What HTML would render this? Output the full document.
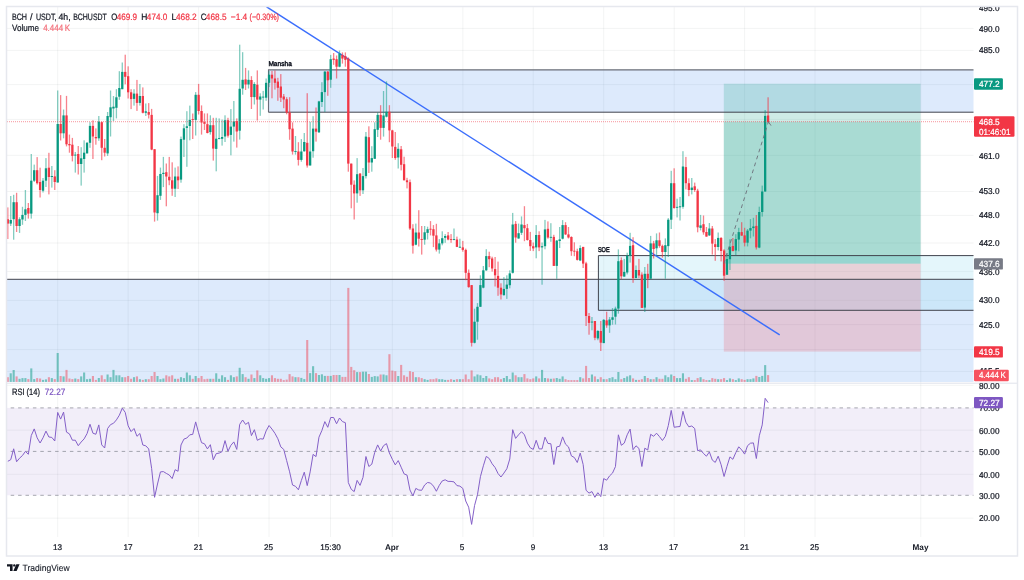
<!DOCTYPE html><html><head><meta charset="utf-8"><title>BCH/USDT chart</title><style>html,body{margin:0;padding:0;background:#fff;overflow:hidden}svg{display:block;will-change:transform}</style></head><body><svg width="1024" height="580" viewBox="0 0 1024 580" text-rendering="geometricPrecision" font-family="'Liberation Sans', Arial, sans-serif"><rect x="0" y="0" width="1024" height="580" fill="#fff"/>
<line x1="7" y1="28.4" x2="973.5" y2="28.4" stroke="rgba(42,46,57,0.055)" stroke-width="1"/>
<line x1="7" y1="50.4" x2="973.5" y2="50.4" stroke="rgba(42,46,57,0.055)" stroke-width="1"/>
<line x1="7" y1="84.6" x2="973.5" y2="84.6" stroke="rgba(42,46,57,0.055)" stroke-width="1"/>
<line x1="7" y1="119.4" x2="973.5" y2="119.4" stroke="rgba(42,46,57,0.055)" stroke-width="1"/>
<line x1="7" y1="155.3" x2="973.5" y2="155.3" stroke="rgba(42,46,57,0.055)" stroke-width="1"/>
<line x1="7" y1="191.5" x2="973.5" y2="191.5" stroke="rgba(42,46,57,0.055)" stroke-width="1"/>
<line x1="7" y1="215.4" x2="973.5" y2="215.4" stroke="rgba(42,46,57,0.055)" stroke-width="1"/>
<line x1="7" y1="243.0" x2="973.5" y2="243.0" stroke="rgba(42,46,57,0.055)" stroke-width="1"/>
<line x1="7" y1="271.5" x2="973.5" y2="271.5" stroke="rgba(42,46,57,0.055)" stroke-width="1"/>
<line x1="7" y1="300.4" x2="973.5" y2="300.4" stroke="rgba(42,46,57,0.055)" stroke-width="1"/>
<line x1="7" y1="324.6" x2="973.5" y2="324.6" stroke="rgba(42,46,57,0.055)" stroke-width="1"/>
<line x1="7" y1="349.6" x2="973.5" y2="349.6" stroke="rgba(42,46,57,0.055)" stroke-width="1"/>
<line x1="7" y1="371.4" x2="973.5" y2="371.4" stroke="rgba(42,46,57,0.055)" stroke-width="1"/>
<line x1="7" y1="385.3" x2="973.5" y2="385.3" stroke="rgba(42,46,57,0.055)" stroke-width="1"/>
<line x1="7" y1="430.2" x2="973.5" y2="430.2" stroke="rgba(42,46,57,0.055)" stroke-width="1"/>
<line x1="7" y1="474.3" x2="973.5" y2="474.3" stroke="rgba(42,46,57,0.055)" stroke-width="1"/>
<line x1="7" y1="518.2" x2="973.5" y2="518.2" stroke="rgba(42,46,57,0.055)" stroke-width="1"/>
<line x1="57.7" y1="7" x2="57.7" y2="537" stroke="rgba(42,46,57,0.055)" stroke-width="1"/>
<line x1="128.15" y1="7" x2="128.15" y2="537" stroke="rgba(42,46,57,0.055)" stroke-width="1"/>
<line x1="198.6" y1="7" x2="198.6" y2="537" stroke="rgba(42,46,57,0.055)" stroke-width="1"/>
<line x1="269.06" y1="7" x2="269.06" y2="537" stroke="rgba(42,46,57,0.055)" stroke-width="1"/>
<line x1="392.35" y1="7" x2="392.35" y2="537" stroke="rgba(42,46,57,0.055)" stroke-width="1"/>
<line x1="462.8" y1="7" x2="462.8" y2="537" stroke="rgba(42,46,57,0.055)" stroke-width="1"/>
<line x1="533.25" y1="7" x2="533.25" y2="537" stroke="rgba(42,46,57,0.055)" stroke-width="1"/>
<line x1="603.7" y1="7" x2="603.7" y2="537" stroke="rgba(42,46,57,0.055)" stroke-width="1"/>
<line x1="674.16" y1="7" x2="674.16" y2="537" stroke="rgba(42,46,57,0.055)" stroke-width="1"/>
<line x1="744.61" y1="7" x2="744.61" y2="537" stroke="rgba(42,46,57,0.055)" stroke-width="1"/>
<line x1="815.06" y1="7" x2="815.06" y2="537" stroke="rgba(42,46,57,0.055)" stroke-width="1"/>
<line x1="920.74" y1="7" x2="920.74" y2="537" stroke="rgba(42,46,57,0.055)" stroke-width="1"/>
<line x1="330.5" y1="7" x2="330.5" y2="537" stroke="rgba(42,46,57,0.055)" stroke-width="1"/>
<rect x="7" y="279.2" width="966.5" height="102.80000000000001" fill="rgba(38,120,235,0.155)"/>
<rect x="268.5" y="69.9" width="705.0" height="42.3" fill="rgba(38,120,235,0.155)"/>
<rect x="598.3" y="255.6" width="375.20000000000005" height="54.6" fill="rgba(163,224,241,0.294)"/>
<rect x="723.8" y="83.7" width="196.8" height="38" fill="rgba(8,153,129,0.2)"/>
<rect x="723.8" y="121.7" width="196.8" height="142" fill="rgba(8,153,129,0.35)"/>
<rect x="723.8" y="263.7" width="196.8" height="87.9" fill="rgba(242,54,69,0.19)"/>
<rect x="6.75" y="377.20" width="2.1" height="4.70" fill="rgba(242,54,69,0.45)"/><rect x="9.68" y="373.30" width="2.1" height="8.60" fill="rgba(8,153,129,0.5)"/><rect x="12.62" y="370.00" width="2.1" height="11.90" fill="rgba(8,153,129,0.5)"/><rect x="15.55" y="376.40" width="2.1" height="5.50" fill="rgba(242,54,69,0.45)"/><rect x="18.49" y="378.80" width="2.1" height="3.10" fill="rgba(8,153,129,0.5)"/><rect x="21.42" y="378.10" width="2.1" height="3.80" fill="rgba(8,153,129,0.5)"/><rect x="24.36" y="378.10" width="2.1" height="3.80" fill="rgba(8,153,129,0.5)"/><rect x="27.29" y="379.10" width="2.1" height="2.80" fill="rgba(242,54,69,0.45)"/><rect x="30.23" y="368.40" width="2.1" height="13.50" fill="rgba(8,153,129,0.5)"/><rect x="33.17" y="379.10" width="2.1" height="2.80" fill="rgba(8,153,129,0.5)"/><rect x="36.10" y="378.10" width="2.1" height="3.80" fill="rgba(242,54,69,0.45)"/><rect x="39.04" y="378.50" width="2.1" height="3.40" fill="rgba(242,54,69,0.45)"/><rect x="41.97" y="379.90" width="2.1" height="2.00" fill="rgba(8,153,129,0.5)"/><rect x="44.91" y="379.40" width="2.1" height="2.50" fill="rgba(8,153,129,0.5)"/><rect x="47.84" y="377.20" width="2.1" height="4.70" fill="rgba(242,54,69,0.45)"/><rect x="50.78" y="378.10" width="2.1" height="3.80" fill="rgba(8,153,129,0.5)"/><rect x="53.71" y="379.10" width="2.1" height="2.80" fill="rgba(242,54,69,0.45)"/><rect x="56.65" y="353.00" width="2.1" height="28.90" fill="rgba(8,153,129,0.5)"/><rect x="59.59" y="376.00" width="2.1" height="5.90" fill="rgba(242,54,69,0.45)"/><rect x="62.52" y="376.40" width="2.1" height="5.50" fill="rgba(8,153,129,0.5)"/><rect x="65.46" y="369.90" width="2.1" height="12.00" fill="rgba(242,54,69,0.45)"/><rect x="68.39" y="378.50" width="2.1" height="3.40" fill="rgba(242,54,69,0.45)"/><rect x="71.33" y="379.10" width="2.1" height="2.80" fill="rgba(242,54,69,0.45)"/><rect x="74.26" y="378.50" width="2.1" height="3.40" fill="rgba(8,153,129,0.5)"/><rect x="77.20" y="379.10" width="2.1" height="2.80" fill="rgba(242,54,69,0.45)"/><rect x="80.13" y="376.40" width="2.1" height="5.50" fill="rgba(8,153,129,0.5)"/><rect x="83.07" y="372.50" width="2.1" height="9.40" fill="rgba(8,153,129,0.5)"/><rect x="86.01" y="379.20" width="2.1" height="2.70" fill="rgba(8,153,129,0.5)"/><rect x="88.94" y="378.80" width="2.1" height="3.10" fill="rgba(8,153,129,0.5)"/><rect x="91.88" y="376.00" width="2.1" height="5.90" fill="rgba(242,54,69,0.45)"/><rect x="94.81" y="379.90" width="2.1" height="2.00" fill="rgba(242,54,69,0.45)"/><rect x="97.75" y="378.00" width="2.1" height="3.90" fill="rgba(8,153,129,0.5)"/><rect x="100.68" y="375.30" width="2.1" height="6.60" fill="rgba(242,54,69,0.45)"/><rect x="103.62" y="379.20" width="2.1" height="2.70" fill="rgba(242,54,69,0.45)"/><rect x="106.55" y="374.50" width="2.1" height="7.40" fill="rgba(8,153,129,0.5)"/><rect x="109.49" y="377.20" width="2.1" height="4.70" fill="rgba(8,153,129,0.5)"/><rect x="112.42" y="369.90" width="2.1" height="12.00" fill="rgba(8,153,129,0.5)"/><rect x="115.36" y="375.30" width="2.1" height="6.60" fill="rgba(8,153,129,0.5)"/><rect x="118.30" y="375.30" width="2.1" height="6.60" fill="rgba(8,153,129,0.5)"/><rect x="121.23" y="377.20" width="2.1" height="4.70" fill="rgba(8,153,129,0.5)"/><rect x="124.17" y="377.20" width="2.1" height="4.70" fill="rgba(242,54,69,0.45)"/><rect x="127.10" y="376.00" width="2.1" height="5.90" fill="rgba(242,54,69,0.45)"/><rect x="130.04" y="378.80" width="2.1" height="3.10" fill="rgba(242,54,69,0.45)"/><rect x="132.97" y="377.20" width="2.1" height="4.70" fill="rgba(8,153,129,0.5)"/><rect x="135.91" y="376.40" width="2.1" height="5.50" fill="rgba(242,54,69,0.45)"/><rect x="138.84" y="379.20" width="2.1" height="2.70" fill="rgba(8,153,129,0.5)"/><rect x="141.78" y="379.90" width="2.1" height="2.00" fill="rgba(242,54,69,0.45)"/><rect x="144.72" y="379.20" width="2.1" height="2.70" fill="rgba(8,153,129,0.5)"/><rect x="147.65" y="379.20" width="2.1" height="2.70" fill="rgba(242,54,69,0.45)"/><rect x="150.59" y="376.00" width="2.1" height="5.90" fill="rgba(242,54,69,0.45)"/><rect x="153.52" y="372.00" width="2.1" height="9.90" fill="rgba(242,54,69,0.45)"/><rect x="156.46" y="376.00" width="2.1" height="5.90" fill="rgba(8,153,129,0.5)"/><rect x="159.39" y="379.20" width="2.1" height="2.70" fill="rgba(8,153,129,0.5)"/><rect x="162.33" y="378.50" width="2.1" height="3.40" fill="rgba(8,153,129,0.5)"/><rect x="165.26" y="375.30" width="2.1" height="6.60" fill="rgba(242,54,69,0.45)"/><rect x="168.20" y="376.40" width="2.1" height="5.50" fill="rgba(242,54,69,0.45)"/><rect x="171.13" y="375.30" width="2.1" height="6.60" fill="rgba(242,54,69,0.45)"/><rect x="174.07" y="378.80" width="2.1" height="3.10" fill="rgba(8,153,129,0.5)"/><rect x="177.01" y="378.80" width="2.1" height="3.10" fill="rgba(242,54,69,0.45)"/><rect x="179.94" y="377.20" width="2.1" height="4.70" fill="rgba(8,153,129,0.5)"/><rect x="182.88" y="378.10" width="2.1" height="3.80" fill="rgba(8,153,129,0.5)"/><rect x="185.81" y="372.50" width="2.1" height="9.40" fill="rgba(8,153,129,0.5)"/><rect x="188.75" y="375.30" width="2.1" height="6.60" fill="rgba(8,153,129,0.5)"/><rect x="191.68" y="378.80" width="2.1" height="3.10" fill="rgba(242,54,69,0.45)"/><rect x="194.62" y="376.00" width="2.1" height="5.90" fill="rgba(8,153,129,0.5)"/><rect x="197.55" y="378.10" width="2.1" height="3.80" fill="rgba(242,54,69,0.45)"/><rect x="200.49" y="376.00" width="2.1" height="5.90" fill="rgba(242,54,69,0.45)"/><rect x="203.43" y="379.20" width="2.1" height="2.70" fill="rgba(242,54,69,0.45)"/><rect x="206.36" y="378.80" width="2.1" height="3.10" fill="rgba(242,54,69,0.45)"/><rect x="209.30" y="378.80" width="2.1" height="3.10" fill="rgba(8,153,129,0.5)"/><rect x="212.23" y="378.80" width="2.1" height="3.10" fill="rgba(242,54,69,0.45)"/><rect x="215.17" y="373.30" width="2.1" height="8.60" fill="rgba(8,153,129,0.5)"/><rect x="218.10" y="378.80" width="2.1" height="3.10" fill="rgba(8,153,129,0.5)"/><rect x="221.04" y="375.30" width="2.1" height="6.60" fill="rgba(8,153,129,0.5)"/><rect x="223.97" y="377.20" width="2.1" height="4.70" fill="rgba(8,153,129,0.5)"/><rect x="226.91" y="379.90" width="2.1" height="2.00" fill="rgba(242,54,69,0.45)"/><rect x="229.84" y="375.30" width="2.1" height="6.60" fill="rgba(8,153,129,0.5)"/><rect x="232.78" y="377.20" width="2.1" height="4.70" fill="rgba(8,153,129,0.5)"/><rect x="235.72" y="376.40" width="2.1" height="5.50" fill="rgba(242,54,69,0.45)"/><rect x="238.65" y="367.80" width="2.1" height="14.10" fill="rgba(8,153,129,0.5)"/><rect x="241.59" y="374.10" width="2.1" height="7.80" fill="rgba(8,153,129,0.5)"/><rect x="244.52" y="377.20" width="2.1" height="4.70" fill="rgba(242,54,69,0.45)"/><rect x="247.46" y="378.80" width="2.1" height="3.10" fill="rgba(8,153,129,0.5)"/><rect x="250.39" y="374.50" width="2.1" height="7.40" fill="rgba(242,54,69,0.45)"/><rect x="253.33" y="378.10" width="2.1" height="3.80" fill="rgba(8,153,129,0.5)"/><rect x="256.26" y="370.40" width="2.1" height="11.50" fill="rgba(242,54,69,0.45)"/><rect x="259.20" y="375.30" width="2.1" height="6.60" fill="rgba(8,153,129,0.5)"/><rect x="262.13" y="378.10" width="2.1" height="3.80" fill="rgba(8,153,129,0.5)"/><rect x="265.07" y="378.80" width="2.1" height="3.10" fill="rgba(8,153,129,0.5)"/><rect x="268.01" y="378.10" width="2.1" height="3.80" fill="rgba(8,153,129,0.5)"/><rect x="270.94" y="375.30" width="2.1" height="6.60" fill="rgba(242,54,69,0.45)"/><rect x="273.88" y="378.10" width="2.1" height="3.80" fill="rgba(242,54,69,0.45)"/><rect x="276.81" y="378.80" width="2.1" height="3.10" fill="rgba(242,54,69,0.45)"/><rect x="279.75" y="378.80" width="2.1" height="3.10" fill="rgba(242,54,69,0.45)"/><rect x="282.68" y="380.10" width="2.1" height="1.80" fill="rgba(242,54,69,0.45)"/><rect x="285.62" y="379.60" width="2.1" height="2.30" fill="rgba(242,54,69,0.45)"/><rect x="288.55" y="374.10" width="2.1" height="7.80" fill="rgba(242,54,69,0.45)"/><rect x="291.49" y="376.40" width="2.1" height="5.50" fill="rgba(242,54,69,0.45)"/><rect x="294.43" y="377.20" width="2.1" height="4.70" fill="rgba(8,153,129,0.5)"/><rect x="297.36" y="377.20" width="2.1" height="4.70" fill="rgba(242,54,69,0.45)"/><rect x="300.30" y="377.90" width="2.1" height="4.00" fill="rgba(8,153,129,0.5)"/><rect x="303.23" y="379.10" width="2.1" height="2.80" fill="rgba(8,153,129,0.5)"/><rect x="306.17" y="340.00" width="2.1" height="41.90" fill="rgba(242,54,69,0.45)"/><rect x="309.10" y="373.10" width="2.1" height="8.80" fill="rgba(8,153,129,0.5)"/><rect x="312.04" y="366.20" width="2.1" height="15.70" fill="rgba(8,153,129,0.5)"/><rect x="314.97" y="373.10" width="2.1" height="8.80" fill="rgba(242,54,69,0.45)"/><rect x="317.91" y="375.00" width="2.1" height="6.90" fill="rgba(8,153,129,0.5)"/><rect x="320.84" y="374.30" width="2.1" height="7.60" fill="rgba(8,153,129,0.5)"/><rect x="323.78" y="375.90" width="2.1" height="6.00" fill="rgba(8,153,129,0.5)"/><rect x="326.72" y="375.90" width="2.1" height="6.00" fill="rgba(242,54,69,0.45)"/><rect x="329.65" y="375.90" width="2.1" height="6.00" fill="rgba(8,153,129,0.5)"/><rect x="332.59" y="375.00" width="2.1" height="6.90" fill="rgba(242,54,69,0.45)"/><rect x="335.52" y="375.00" width="2.1" height="6.90" fill="rgba(242,54,69,0.45)"/><rect x="338.46" y="375.00" width="2.1" height="6.90" fill="rgba(8,153,129,0.5)"/><rect x="341.39" y="376.90" width="2.1" height="5.00" fill="rgba(242,54,69,0.45)"/><rect x="344.33" y="376.90" width="2.1" height="5.00" fill="rgba(242,54,69,0.45)"/><rect x="347.26" y="287.90" width="2.1" height="94.00" fill="rgba(242,54,69,0.45)"/><rect x="350.20" y="366.90" width="2.1" height="15.00" fill="rgba(242,54,69,0.45)"/><rect x="353.14" y="370.20" width="2.1" height="11.70" fill="rgba(242,54,69,0.45)"/><rect x="356.07" y="372.10" width="2.1" height="9.80" fill="rgba(8,153,129,0.5)"/><rect x="359.01" y="372.10" width="2.1" height="9.80" fill="rgba(242,54,69,0.45)"/><rect x="361.94" y="371.70" width="2.1" height="10.20" fill="rgba(8,153,129,0.5)"/><rect x="364.88" y="371.70" width="2.1" height="10.20" fill="rgba(8,153,129,0.5)"/><rect x="367.81" y="374.00" width="2.1" height="7.90" fill="rgba(242,54,69,0.45)"/><rect x="370.75" y="376.90" width="2.1" height="5.00" fill="rgba(8,153,129,0.5)"/><rect x="373.68" y="376.10" width="2.1" height="5.80" fill="rgba(8,153,129,0.5)"/><rect x="376.62" y="376.40" width="2.1" height="5.50" fill="rgba(8,153,129,0.5)"/><rect x="379.56" y="374.50" width="2.1" height="7.40" fill="rgba(242,54,69,0.45)"/><rect x="382.49" y="374.50" width="2.1" height="7.40" fill="rgba(8,153,129,0.5)"/><rect x="385.43" y="375.30" width="2.1" height="6.60" fill="rgba(8,153,129,0.5)"/><rect x="388.36" y="354.20" width="2.1" height="27.70" fill="rgba(242,54,69,0.45)"/><rect x="391.30" y="370.60" width="2.1" height="11.30" fill="rgba(242,54,69,0.45)"/><rect x="394.23" y="371.20" width="2.1" height="10.70" fill="rgba(242,54,69,0.45)"/><rect x="397.17" y="376.00" width="2.1" height="5.90" fill="rgba(8,153,129,0.5)"/><rect x="400.10" y="364.90" width="2.1" height="17.00" fill="rgba(242,54,69,0.45)"/><rect x="403.04" y="375.30" width="2.1" height="6.60" fill="rgba(242,54,69,0.45)"/><rect x="405.97" y="376.80" width="2.1" height="5.10" fill="rgba(242,54,69,0.45)"/><rect x="408.91" y="371.20" width="2.1" height="10.70" fill="rgba(242,54,69,0.45)"/><rect x="411.85" y="372.00" width="2.1" height="9.90" fill="rgba(242,54,69,0.45)"/><rect x="414.78" y="377.20" width="2.1" height="4.70" fill="rgba(8,153,129,0.5)"/><rect x="417.72" y="377.20" width="2.1" height="4.70" fill="rgba(242,54,69,0.45)"/><rect x="420.65" y="378.10" width="2.1" height="3.80" fill="rgba(242,54,69,0.45)"/><rect x="423.59" y="379.20" width="2.1" height="2.70" fill="rgba(8,153,129,0.5)"/><rect x="426.52" y="379.90" width="2.1" height="2.00" fill="rgba(8,153,129,0.5)"/><rect x="429.46" y="379.20" width="2.1" height="2.70" fill="rgba(242,54,69,0.45)"/><rect x="432.39" y="379.20" width="2.1" height="2.70" fill="rgba(242,54,69,0.45)"/><rect x="435.33" y="378.40" width="2.1" height="3.50" fill="rgba(242,54,69,0.45)"/><rect x="438.26" y="379.20" width="2.1" height="2.70" fill="rgba(8,153,129,0.5)"/><rect x="441.20" y="379.20" width="2.1" height="2.70" fill="rgba(8,153,129,0.5)"/><rect x="444.14" y="379.90" width="2.1" height="2.00" fill="rgba(8,153,129,0.5)"/><rect x="447.07" y="379.90" width="2.1" height="2.00" fill="rgba(242,54,69,0.45)"/><rect x="450.01" y="379.20" width="2.1" height="2.70" fill="rgba(242,54,69,0.45)"/><rect x="452.94" y="379.90" width="2.1" height="2.00" fill="rgba(8,153,129,0.5)"/><rect x="455.88" y="379.20" width="2.1" height="2.70" fill="rgba(242,54,69,0.45)"/><rect x="458.81" y="379.20" width="2.1" height="2.70" fill="rgba(8,153,129,0.5)"/><rect x="461.75" y="379.20" width="2.1" height="2.70" fill="rgba(242,54,69,0.45)"/><rect x="464.68" y="374.50" width="2.1" height="7.40" fill="rgba(242,54,69,0.45)"/><rect x="467.62" y="379.20" width="2.1" height="2.70" fill="rgba(242,54,69,0.45)"/><rect x="470.56" y="370.40" width="2.1" height="11.50" fill="rgba(242,54,69,0.45)"/><rect x="473.49" y="376.40" width="2.1" height="5.50" fill="rgba(8,153,129,0.5)"/><rect x="476.43" y="374.50" width="2.1" height="7.40" fill="rgba(8,153,129,0.5)"/><rect x="479.36" y="375.30" width="2.1" height="6.60" fill="rgba(8,153,129,0.5)"/><rect x="482.30" y="378.00" width="2.1" height="3.90" fill="rgba(8,153,129,0.5)"/><rect x="485.23" y="376.00" width="2.1" height="5.90" fill="rgba(8,153,129,0.5)"/><rect x="488.17" y="378.40" width="2.1" height="3.50" fill="rgba(242,54,69,0.45)"/><rect x="491.10" y="379.20" width="2.1" height="2.70" fill="rgba(242,54,69,0.45)"/><rect x="494.04" y="377.20" width="2.1" height="4.70" fill="rgba(242,54,69,0.45)"/><rect x="496.98" y="377.20" width="2.1" height="4.70" fill="rgba(242,54,69,0.45)"/><rect x="499.91" y="379.20" width="2.1" height="2.70" fill="rgba(242,54,69,0.45)"/><rect x="502.85" y="378.00" width="2.1" height="3.90" fill="rgba(8,153,129,0.5)"/><rect x="505.78" y="376.00" width="2.1" height="5.90" fill="rgba(8,153,129,0.5)"/><rect x="508.72" y="379.20" width="2.1" height="2.70" fill="rgba(8,153,129,0.5)"/><rect x="511.65" y="372.50" width="2.1" height="9.40" fill="rgba(8,153,129,0.5)"/><rect x="514.59" y="375.30" width="2.1" height="6.60" fill="rgba(242,54,69,0.45)"/><rect x="517.52" y="377.20" width="2.1" height="4.70" fill="rgba(8,153,129,0.5)"/><rect x="520.46" y="377.20" width="2.1" height="4.70" fill="rgba(8,153,129,0.5)"/><rect x="523.39" y="374.10" width="2.1" height="7.80" fill="rgba(242,54,69,0.45)"/><rect x="526.33" y="378.40" width="2.1" height="3.50" fill="rgba(242,54,69,0.45)"/><rect x="529.27" y="379.20" width="2.1" height="2.70" fill="rgba(242,54,69,0.45)"/><rect x="532.20" y="378.40" width="2.1" height="3.50" fill="rgba(242,54,69,0.45)"/><rect x="535.14" y="376.40" width="2.1" height="5.50" fill="rgba(8,153,129,0.5)"/><rect x="538.07" y="378.40" width="2.1" height="3.50" fill="rgba(242,54,69,0.45)"/><rect x="541.01" y="369.90" width="2.1" height="12.00" fill="rgba(8,153,129,0.5)"/><rect x="543.94" y="378.00" width="2.1" height="3.90" fill="rgba(8,153,129,0.5)"/><rect x="546.88" y="378.40" width="2.1" height="3.50" fill="rgba(242,54,69,0.45)"/><rect x="549.81" y="378.80" width="2.1" height="3.10" fill="rgba(8,153,129,0.5)"/><rect x="552.75" y="378.50" width="2.1" height="3.40" fill="rgba(242,54,69,0.45)"/><rect x="555.69" y="378.00" width="2.1" height="3.90" fill="rgba(8,153,129,0.5)"/><rect x="558.62" y="378.80" width="2.1" height="3.10" fill="rgba(8,153,129,0.5)"/><rect x="561.56" y="376.40" width="2.1" height="5.50" fill="rgba(8,153,129,0.5)"/><rect x="564.49" y="379.20" width="2.1" height="2.70" fill="rgba(242,54,69,0.45)"/><rect x="567.43" y="380.10" width="2.1" height="1.80" fill="rgba(242,54,69,0.45)"/><rect x="570.36" y="380.10" width="2.1" height="1.80" fill="rgba(242,54,69,0.45)"/><rect x="573.30" y="380.10" width="2.1" height="1.80" fill="rgba(242,54,69,0.45)"/><rect x="576.23" y="380.10" width="2.1" height="1.80" fill="rgba(242,54,69,0.45)"/><rect x="579.17" y="377.20" width="2.1" height="4.70" fill="rgba(8,153,129,0.5)"/><rect x="582.10" y="378.40" width="2.1" height="3.50" fill="rgba(242,54,69,0.45)"/><rect x="585.04" y="365.90" width="2.1" height="16.00" fill="rgba(242,54,69,0.45)"/><rect x="587.98" y="378.00" width="2.1" height="3.90" fill="rgba(242,54,69,0.45)"/><rect x="590.91" y="374.50" width="2.1" height="7.40" fill="rgba(8,153,129,0.5)"/><rect x="593.85" y="376.40" width="2.1" height="5.50" fill="rgba(242,54,69,0.45)"/><rect x="596.78" y="379.20" width="2.1" height="2.70" fill="rgba(8,153,129,0.5)"/><rect x="599.72" y="377.20" width="2.1" height="4.70" fill="rgba(242,54,69,0.45)"/><rect x="602.65" y="379.20" width="2.1" height="2.70" fill="rgba(8,153,129,0.5)"/><rect x="605.59" y="379.20" width="2.1" height="2.70" fill="rgba(242,54,69,0.45)"/><rect x="608.52" y="378.10" width="2.1" height="3.80" fill="rgba(8,153,129,0.5)"/><rect x="611.46" y="377.20" width="2.1" height="4.70" fill="rgba(8,153,129,0.5)"/><rect x="614.40" y="379.20" width="2.1" height="2.70" fill="rgba(8,153,129,0.5)"/><rect x="617.33" y="372.00" width="2.1" height="9.90" fill="rgba(8,153,129,0.5)"/><rect x="620.27" y="379.20" width="2.1" height="2.70" fill="rgba(242,54,69,0.45)"/><rect x="623.20" y="378.00" width="2.1" height="3.90" fill="rgba(8,153,129,0.5)"/><rect x="626.14" y="376.40" width="2.1" height="5.50" fill="rgba(8,153,129,0.5)"/><rect x="629.07" y="375.30" width="2.1" height="6.60" fill="rgba(8,153,129,0.5)"/><rect x="632.01" y="378.40" width="2.1" height="3.50" fill="rgba(242,54,69,0.45)"/><rect x="634.94" y="379.90" width="2.1" height="2.00" fill="rgba(8,153,129,0.5)"/><rect x="637.88" y="379.90" width="2.1" height="2.00" fill="rgba(242,54,69,0.45)"/><rect x="640.81" y="379.20" width="2.1" height="2.70" fill="rgba(242,54,69,0.45)"/><rect x="643.75" y="376.00" width="2.1" height="5.90" fill="rgba(8,153,129,0.5)"/><rect x="646.69" y="378.00" width="2.1" height="3.90" fill="rgba(242,54,69,0.45)"/><rect x="649.62" y="379.20" width="2.1" height="2.70" fill="rgba(8,153,129,0.5)"/><rect x="652.56" y="379.20" width="2.1" height="2.70" fill="rgba(242,54,69,0.45)"/><rect x="655.49" y="377.20" width="2.1" height="4.70" fill="rgba(8,153,129,0.5)"/><rect x="658.43" y="378.80" width="2.1" height="3.10" fill="rgba(242,54,69,0.45)"/><rect x="661.36" y="378.80" width="2.1" height="3.10" fill="rgba(242,54,69,0.45)"/><rect x="664.30" y="375.30" width="2.1" height="6.60" fill="rgba(8,153,129,0.5)"/><rect x="667.23" y="377.20" width="2.1" height="4.70" fill="rgba(8,153,129,0.5)"/><rect x="670.17" y="374.50" width="2.1" height="7.40" fill="rgba(8,153,129,0.5)"/><rect x="673.11" y="376.00" width="2.1" height="5.90" fill="rgba(242,54,69,0.45)"/><rect x="676.04" y="378.10" width="2.1" height="3.80" fill="rgba(8,153,129,0.5)"/><rect x="678.98" y="378.10" width="2.1" height="3.80" fill="rgba(8,153,129,0.5)"/><rect x="681.91" y="373.30" width="2.1" height="8.60" fill="rgba(8,153,129,0.5)"/><rect x="684.85" y="378.80" width="2.1" height="3.10" fill="rgba(242,54,69,0.45)"/><rect x="687.78" y="377.20" width="2.1" height="4.70" fill="rgba(242,54,69,0.45)"/><rect x="690.72" y="380.10" width="2.1" height="1.80" fill="rgba(8,153,129,0.5)"/><rect x="693.65" y="380.10" width="2.1" height="1.80" fill="rgba(242,54,69,0.45)"/><rect x="696.59" y="378.10" width="2.1" height="3.80" fill="rgba(242,54,69,0.45)"/><rect x="699.52" y="377.20" width="2.1" height="4.70" fill="rgba(8,153,129,0.5)"/><rect x="702.46" y="379.20" width="2.1" height="2.70" fill="rgba(242,54,69,0.45)"/><rect x="705.40" y="380.10" width="2.1" height="1.80" fill="rgba(242,54,69,0.45)"/><rect x="708.33" y="380.10" width="2.1" height="1.80" fill="rgba(8,153,129,0.5)"/><rect x="711.27" y="378.10" width="2.1" height="3.80" fill="rgba(242,54,69,0.45)"/><rect x="714.20" y="378.80" width="2.1" height="3.10" fill="rgba(242,54,69,0.45)"/><rect x="717.14" y="379.20" width="2.1" height="2.70" fill="rgba(8,153,129,0.5)"/><rect x="720.07" y="379.20" width="2.1" height="2.70" fill="rgba(242,54,69,0.45)"/><rect x="723.01" y="378.10" width="2.1" height="3.80" fill="rgba(242,54,69,0.45)"/><rect x="725.94" y="380.10" width="2.1" height="1.80" fill="rgba(8,153,129,0.5)"/><rect x="728.88" y="378.40" width="2.1" height="3.50" fill="rgba(8,153,129,0.5)"/><rect x="731.82" y="379.20" width="2.1" height="2.70" fill="rgba(242,54,69,0.45)"/><rect x="734.75" y="380.10" width="2.1" height="1.80" fill="rgba(8,153,129,0.5)"/><rect x="737.69" y="378.40" width="2.1" height="3.50" fill="rgba(8,153,129,0.5)"/><rect x="740.62" y="379.20" width="2.1" height="2.70" fill="rgba(242,54,69,0.45)"/><rect x="743.56" y="379.90" width="2.1" height="2.00" fill="rgba(242,54,69,0.45)"/><rect x="746.49" y="379.20" width="2.1" height="2.70" fill="rgba(8,153,129,0.5)"/><rect x="749.43" y="379.20" width="2.1" height="2.70" fill="rgba(8,153,129,0.5)"/><rect x="752.36" y="378.40" width="2.1" height="3.50" fill="rgba(8,153,129,0.5)"/><rect x="755.30" y="375.90" width="2.1" height="6.00" fill="rgba(242,54,69,0.45)"/><rect x="758.23" y="377.00" width="2.1" height="4.90" fill="rgba(8,153,129,0.5)"/><rect x="761.17" y="375.90" width="2.1" height="6.00" fill="rgba(8,153,129,0.5)"/><rect x="764.11" y="365.10" width="2.1" height="16.80" fill="rgba(8,153,129,0.5)"/><rect x="767.04" y="375.10" width="2.1" height="6.80" fill="rgba(242,54,69,0.45)"/>
<path d="M268.5 112.3V69.9H973.5" fill="none" stroke="#6a6d78" stroke-width="1.1"/>
<line x1="268.5" y1="112.2" x2="973.5" y2="112.2" stroke="#40434d" stroke-width="1"/>
<line x1="7" y1="279.3" x2="973.5" y2="279.3" stroke="#40434d" stroke-width="1"/>
<path d="M973.5 255.6H598.4V310.3H973.5" fill="none" stroke="#40434d" stroke-width="1"/>
<line x1="266.6" y1="6.9" x2="779.7" y2="334.9" stroke="#3b6efc" stroke-width="1.45"/>
<rect x="7.15" y="207.40" width="1.3" height="31.60" fill="#f23645" fill-opacity="0.62"/><rect x="6.65" y="219.20" width="2.3" height="4.40" fill="#f23645"/><rect x="10.08" y="196.00" width="1.3" height="30.00" fill="#089981" fill-opacity="0.5"/><rect x="9.58" y="220.00" width="2.3" height="3.60" fill="#089981"/><rect x="13.02" y="194.80" width="1.3" height="44.90" fill="#089981" fill-opacity="0.5"/><rect x="12.52" y="202.20" width="2.3" height="17.00" fill="#089981"/><rect x="15.95" y="192.80" width="1.3" height="39.20" fill="#f23645" fill-opacity="0.62"/><rect x="15.45" y="202.20" width="2.3" height="23.80" fill="#f23645"/><rect x="18.89" y="217.30" width="1.3" height="15.60" fill="#089981" fill-opacity="0.5"/><rect x="18.39" y="219.20" width="2.3" height="6.80" fill="#089981"/><rect x="21.82" y="206.80" width="1.3" height="18.00" fill="#089981" fill-opacity="0.5"/><rect x="21.32" y="214.90" width="2.3" height="4.60" fill="#089981"/><rect x="24.76" y="190.00" width="1.3" height="31.00" fill="#089981" fill-opacity="0.5"/><rect x="24.26" y="209.30" width="2.3" height="5.60" fill="#089981"/><rect x="27.70" y="203.00" width="1.3" height="15.60" fill="#f23645" fill-opacity="0.62"/><rect x="27.20" y="208.00" width="2.3" height="5.60" fill="#f23645"/><rect x="30.63" y="154.00" width="1.3" height="64.60" fill="#089981" fill-opacity="0.5"/><rect x="30.13" y="180.70" width="2.3" height="32.90" fill="#089981"/><rect x="33.57" y="164.60" width="1.3" height="17.40" fill="#089981" fill-opacity="0.5"/><rect x="33.07" y="170.20" width="2.3" height="10.50" fill="#089981"/><rect x="36.50" y="157.10" width="1.3" height="27.40" fill="#f23645" fill-opacity="0.62"/><rect x="36.00" y="170.20" width="2.3" height="13.00" fill="#f23645"/><rect x="39.44" y="167.70" width="1.3" height="29.80" fill="#f23645" fill-opacity="0.62"/><rect x="38.94" y="182.00" width="2.3" height="8.00" fill="#f23645"/><rect x="42.37" y="178.00" width="1.3" height="14.50" fill="#089981" fill-opacity="0.5"/><rect x="41.87" y="180.70" width="2.3" height="10.00" fill="#089981"/><rect x="45.31" y="158.10" width="1.3" height="28.90" fill="#089981" fill-opacity="0.5"/><rect x="44.81" y="168.30" width="2.3" height="12.40" fill="#089981"/><rect x="48.24" y="152.80" width="1.3" height="41.60" fill="#f23645" fill-opacity="0.62"/><rect x="47.74" y="167.70" width="2.3" height="9.30" fill="#f23645"/><rect x="51.18" y="166.00" width="1.3" height="21.60" fill="#089981" fill-opacity="0.5"/><rect x="50.68" y="176.00" width="2.3" height="1.00" fill="#089981"/><rect x="54.11" y="170.20" width="1.3" height="19.80" fill="#f23645" fill-opacity="0.62"/><rect x="53.61" y="176.40" width="2.3" height="5.60" fill="#f23645"/><rect x="57.05" y="90.50" width="1.3" height="92.00" fill="#089981" fill-opacity="0.5"/><rect x="56.55" y="124.00" width="2.3" height="58.50" fill="#089981"/><rect x="59.99" y="95.10" width="1.3" height="45.40" fill="#f23645" fill-opacity="0.62"/><rect x="59.49" y="124.00" width="2.3" height="9.30" fill="#f23645"/><rect x="62.92" y="109.50" width="1.3" height="28.80" fill="#089981" fill-opacity="0.5"/><rect x="62.42" y="115.40" width="2.3" height="17.90" fill="#089981"/><rect x="65.86" y="95.90" width="1.3" height="50.50" fill="#f23645" fill-opacity="0.62"/><rect x="65.36" y="115.40" width="2.3" height="28.90" fill="#f23645"/><rect x="68.79" y="134.60" width="1.3" height="18.10" fill="#f23645" fill-opacity="0.62"/><rect x="68.29" y="144.00" width="2.3" height="1.30" fill="#f23645"/><rect x="71.73" y="137.90" width="1.3" height="23.50" fill="#f23645" fill-opacity="0.62"/><rect x="71.23" y="144.70" width="2.3" height="11.20" fill="#f23645"/><rect x="74.66" y="152.00" width="1.3" height="20.60" fill="#089981" fill-opacity="0.5"/><rect x="74.16" y="154.65" width="2.3" height="0.90" fill="#089981"/><rect x="77.60" y="146.00" width="1.3" height="28.50" fill="#f23645" fill-opacity="0.62"/><rect x="77.10" y="154.00" width="2.3" height="10.00" fill="#f23645"/><rect x="80.53" y="147.20" width="1.3" height="38.40" fill="#089981" fill-opacity="0.5"/><rect x="80.03" y="158.30" width="2.3" height="5.70" fill="#089981"/><rect x="83.47" y="140.30" width="1.3" height="32.30" fill="#089981" fill-opacity="0.5"/><rect x="82.97" y="152.70" width="2.3" height="6.30" fill="#089981"/><rect x="86.41" y="142.00" width="1.3" height="11.40" fill="#089981" fill-opacity="0.5"/><rect x="85.91" y="142.80" width="2.3" height="10.60" fill="#089981"/><rect x="89.34" y="122.20" width="1.3" height="25.60" fill="#089981" fill-opacity="0.5"/><rect x="88.84" y="125.90" width="2.3" height="16.90" fill="#089981"/><rect x="92.28" y="120.30" width="1.3" height="38.70" fill="#f23645" fill-opacity="0.62"/><rect x="91.78" y="125.90" width="2.3" height="10.60" fill="#f23645"/><rect x="95.21" y="128.40" width="1.3" height="16.30" fill="#f23645" fill-opacity="0.62"/><rect x="94.71" y="137.00" width="2.3" height="1.30" fill="#f23645"/><rect x="98.15" y="116.00" width="1.3" height="24.80" fill="#089981" fill-opacity="0.5"/><rect x="97.65" y="121.60" width="2.3" height="16.70" fill="#089981"/><rect x="101.08" y="121.60" width="1.3" height="38.60" fill="#f23645" fill-opacity="0.62"/><rect x="100.58" y="122.20" width="2.3" height="25.60" fill="#f23645"/><rect x="104.02" y="139.00" width="1.3" height="17.50" fill="#f23645" fill-opacity="0.62"/><rect x="103.52" y="147.80" width="2.3" height="4.90" fill="#f23645"/><rect x="106.95" y="112.00" width="1.3" height="43.90" fill="#089981" fill-opacity="0.5"/><rect x="106.45" y="116.00" width="2.3" height="37.40" fill="#089981"/><rect x="109.89" y="90.50" width="1.3" height="46.00" fill="#089981" fill-opacity="0.5"/><rect x="109.39" y="107.30" width="2.3" height="9.90" fill="#089981"/><rect x="112.82" y="96.00" width="1.3" height="25.00" fill="#089981" fill-opacity="0.5"/><rect x="112.32" y="106.70" width="2.3" height="1.80" fill="#089981"/><rect x="115.76" y="89.20" width="1.3" height="29.20" fill="#089981" fill-opacity="0.5"/><rect x="115.26" y="97.30" width="2.3" height="10.50" fill="#089981"/><rect x="118.70" y="71.20" width="1.3" height="28.60" fill="#089981" fill-opacity="0.5"/><rect x="118.20" y="88.00" width="2.3" height="8.70" fill="#089981"/><rect x="121.63" y="62.50" width="1.3" height="26.70" fill="#089981" fill-opacity="0.5"/><rect x="121.13" y="71.90" width="2.3" height="17.30" fill="#089981"/><rect x="124.57" y="54.70" width="1.3" height="29.60" fill="#f23645" fill-opacity="0.62"/><rect x="124.07" y="71.90" width="2.3" height="4.90" fill="#f23645"/><rect x="127.50" y="66.30" width="1.3" height="32.20" fill="#f23645" fill-opacity="0.62"/><rect x="127.00" y="76.20" width="2.3" height="16.10" fill="#f23645"/><rect x="130.44" y="89.20" width="1.3" height="19.90" fill="#f23645" fill-opacity="0.62"/><rect x="129.94" y="92.30" width="2.3" height="6.80" fill="#f23645"/><rect x="133.37" y="89.20" width="1.3" height="16.40" fill="#089981" fill-opacity="0.5"/><rect x="132.87" y="93.60" width="2.3" height="5.30" fill="#089981"/><rect x="136.31" y="79.90" width="1.3" height="31.00" fill="#f23645" fill-opacity="0.62"/><rect x="135.81" y="93.60" width="2.3" height="9.30" fill="#f23645"/><rect x="139.24" y="84.00" width="1.3" height="21.60" fill="#089981" fill-opacity="0.5"/><rect x="138.74" y="96.00" width="2.3" height="6.90" fill="#089981"/><rect x="142.18" y="87.40" width="1.3" height="26.00" fill="#f23645" fill-opacity="0.62"/><rect x="141.68" y="96.00" width="2.3" height="16.80" fill="#f23645"/><rect x="145.12" y="103.50" width="1.3" height="12.50" fill="#089981" fill-opacity="0.5"/><rect x="144.62" y="111.30" width="2.3" height="1.50" fill="#089981"/><rect x="148.05" y="103.10" width="1.3" height="15.40" fill="#f23645" fill-opacity="0.62"/><rect x="147.55" y="112.00" width="2.3" height="2.70" fill="#f23645"/><rect x="150.99" y="108.90" width="1.3" height="41.30" fill="#f23645" fill-opacity="0.62"/><rect x="150.49" y="114.90" width="2.3" height="34.70" fill="#f23645"/><rect x="153.92" y="149.20" width="1.3" height="72.40" fill="#f23645" fill-opacity="0.62"/><rect x="153.42" y="149.20" width="2.3" height="63.30" fill="#f23645"/><rect x="156.86" y="175.90" width="1.3" height="44.70" fill="#089981" fill-opacity="0.5"/><rect x="156.36" y="195.20" width="2.3" height="18.00" fill="#089981"/><rect x="159.79" y="167.60" width="1.3" height="32.30" fill="#089981" fill-opacity="0.5"/><rect x="159.29" y="174.00" width="2.3" height="21.80" fill="#089981"/><rect x="162.73" y="156.90" width="1.3" height="30.20" fill="#089981" fill-opacity="0.5"/><rect x="162.23" y="172.80" width="2.3" height="1.20" fill="#089981"/><rect x="165.66" y="163.50" width="1.3" height="42.80" fill="#f23645" fill-opacity="0.62"/><rect x="165.16" y="172.20" width="2.3" height="4.30" fill="#f23645"/><rect x="168.60" y="156.90" width="1.3" height="28.30" fill="#f23645" fill-opacity="0.62"/><rect x="168.10" y="176.80" width="2.3" height="3.50" fill="#f23645"/><rect x="171.53" y="162.30" width="1.3" height="33.50" fill="#f23645" fill-opacity="0.62"/><rect x="171.03" y="180.30" width="2.3" height="8.40" fill="#f23645"/><rect x="174.47" y="167.60" width="1.3" height="29.40" fill="#089981" fill-opacity="0.5"/><rect x="173.97" y="176.50" width="2.3" height="12.20" fill="#089981"/><rect x="177.41" y="166.40" width="1.3" height="22.60" fill="#f23645" fill-opacity="0.62"/><rect x="176.91" y="176.50" width="2.3" height="3.80" fill="#f23645"/><rect x="180.34" y="136.60" width="1.3" height="46.10" fill="#089981" fill-opacity="0.5"/><rect x="179.84" y="139.10" width="2.3" height="40.50" fill="#089981"/><rect x="183.28" y="124.20" width="1.3" height="32.80" fill="#089981" fill-opacity="0.5"/><rect x="182.78" y="128.30" width="2.3" height="11.40" fill="#089981"/><rect x="186.21" y="111.20" width="1.3" height="55.60" fill="#089981" fill-opacity="0.5"/><rect x="185.71" y="126.30" width="2.3" height="1.60" fill="#089981"/><rect x="189.15" y="105.60" width="1.3" height="34.70" fill="#089981" fill-opacity="0.5"/><rect x="188.65" y="119.90" width="2.3" height="6.10" fill="#089981"/><rect x="192.08" y="113.50" width="1.3" height="25.50" fill="#f23645" fill-opacity="0.62"/><rect x="191.58" y="119.10" width="2.3" height="0.90" fill="#f23645"/><rect x="195.02" y="92.10" width="1.3" height="43.40" fill="#089981" fill-opacity="0.5"/><rect x="194.52" y="94.80" width="2.3" height="25.10" fill="#089981"/><rect x="197.95" y="83.90" width="1.3" height="30.60" fill="#f23645" fill-opacity="0.62"/><rect x="197.45" y="94.80" width="2.3" height="16.20" fill="#f23645"/><rect x="200.89" y="105.40" width="1.3" height="29.20" fill="#f23645" fill-opacity="0.62"/><rect x="200.39" y="111.00" width="2.3" height="11.50" fill="#f23645"/><rect x="203.83" y="113.40" width="1.3" height="16.60" fill="#f23645" fill-opacity="0.62"/><rect x="203.33" y="122.10" width="2.3" height="1.70" fill="#f23645"/><rect x="206.76" y="113.40" width="1.3" height="20.00" fill="#f23645" fill-opacity="0.62"/><rect x="206.26" y="124.20" width="2.3" height="8.80" fill="#f23645"/><rect x="209.70" y="115.30" width="1.3" height="19.30" fill="#089981" fill-opacity="0.5"/><rect x="209.20" y="125.20" width="2.3" height="6.90" fill="#089981"/><rect x="212.63" y="117.80" width="1.3" height="42.80" fill="#f23645" fill-opacity="0.62"/><rect x="212.13" y="125.20" width="2.3" height="23.40" fill="#f23645"/><rect x="215.57" y="117.80" width="1.3" height="53.50" fill="#089981" fill-opacity="0.5"/><rect x="215.07" y="138.70" width="2.3" height="10.20" fill="#089981"/><rect x="218.50" y="118.40" width="1.3" height="21.00" fill="#089981" fill-opacity="0.5"/><rect x="218.00" y="138.10" width="2.3" height="0.90" fill="#089981"/><rect x="221.44" y="119.60" width="1.3" height="26.00" fill="#089981" fill-opacity="0.5"/><rect x="220.94" y="137.00" width="2.3" height="1.80" fill="#089981"/><rect x="224.37" y="115.30" width="1.3" height="26.70" fill="#089981" fill-opacity="0.5"/><rect x="223.87" y="120.20" width="2.3" height="16.30" fill="#089981"/><rect x="227.31" y="117.80" width="1.3" height="19.80" fill="#f23645" fill-opacity="0.62"/><rect x="226.81" y="120.20" width="2.3" height="15.50" fill="#f23645"/><rect x="230.24" y="109.10" width="1.3" height="46.20" fill="#089981" fill-opacity="0.5"/><rect x="229.74" y="126.60" width="2.3" height="8.30" fill="#089981"/><rect x="233.18" y="101.00" width="1.3" height="40.60" fill="#089981" fill-opacity="0.5"/><rect x="232.68" y="121.40" width="2.3" height="5.20" fill="#089981"/><rect x="236.12" y="118.40" width="1.3" height="29.20" fill="#f23645" fill-opacity="0.62"/><rect x="235.62" y="121.10" width="2.3" height="10.40" fill="#f23645"/><rect x="239.05" y="44.70" width="1.3" height="94.90" fill="#089981" fill-opacity="0.5"/><rect x="238.55" y="88.80" width="2.3" height="41.90" fill="#089981"/><rect x="241.99" y="52.20" width="1.3" height="42.50" fill="#089981" fill-opacity="0.5"/><rect x="241.49" y="79.80" width="2.3" height="8.70" fill="#089981"/><rect x="244.92" y="67.90" width="1.3" height="22.10" fill="#f23645" fill-opacity="0.62"/><rect x="244.42" y="79.40" width="2.3" height="5.10" fill="#f23645"/><rect x="247.86" y="70.40" width="1.3" height="18.10" fill="#089981" fill-opacity="0.5"/><rect x="247.36" y="79.80" width="2.3" height="4.70" fill="#089981"/><rect x="250.79" y="76.20" width="1.3" height="32.80" fill="#f23645" fill-opacity="0.62"/><rect x="250.29" y="80.00" width="2.3" height="17.00" fill="#f23645"/><rect x="253.73" y="82.20" width="1.3" height="22.30" fill="#089981" fill-opacity="0.5"/><rect x="253.23" y="84.00" width="2.3" height="13.10" fill="#089981"/><rect x="256.66" y="70.40" width="1.3" height="50.10" fill="#f23645" fill-opacity="0.62"/><rect x="256.16" y="84.70" width="2.3" height="14.90" fill="#f23645"/><rect x="259.60" y="93.30" width="1.3" height="22.50" fill="#089981" fill-opacity="0.5"/><rect x="259.10" y="96.50" width="2.3" height="3.10" fill="#089981"/><rect x="262.54" y="90.90" width="1.3" height="18.60" fill="#089981" fill-opacity="0.5"/><rect x="262.04" y="96.65" width="2.3" height="0.90" fill="#089981"/><rect x="265.47" y="78.50" width="1.3" height="22.30" fill="#089981" fill-opacity="0.5"/><rect x="264.97" y="82.80" width="2.3" height="14.90" fill="#089981"/><rect x="268.41" y="71.00" width="1.3" height="16.10" fill="#089981" fill-opacity="0.5"/><rect x="267.91" y="74.70" width="2.3" height="8.10" fill="#089981"/><rect x="271.34" y="71.00" width="1.3" height="27.30" fill="#f23645" fill-opacity="0.62"/><rect x="270.84" y="74.70" width="2.3" height="3.80" fill="#f23645"/><rect x="274.28" y="70.40" width="1.3" height="19.20" fill="#f23645" fill-opacity="0.62"/><rect x="273.78" y="78.50" width="2.3" height="4.30" fill="#f23645"/><rect x="277.21" y="77.80" width="1.3" height="23.00" fill="#f23645" fill-opacity="0.62"/><rect x="276.71" y="81.60" width="2.3" height="6.20" fill="#f23645"/><rect x="280.15" y="74.10" width="1.3" height="27.90" fill="#f23645" fill-opacity="0.62"/><rect x="279.65" y="86.50" width="2.3" height="11.20" fill="#f23645"/><rect x="283.08" y="94.00" width="1.3" height="14.20" fill="#f23645" fill-opacity="0.62"/><rect x="282.58" y="96.50" width="2.3" height="3.00" fill="#f23645"/><rect x="286.02" y="97.20" width="1.3" height="17.10" fill="#f23645" fill-opacity="0.62"/><rect x="285.52" y="99.20" width="2.3" height="13.30" fill="#f23645"/><rect x="288.95" y="97.20" width="1.3" height="42.60" fill="#f23645" fill-opacity="0.62"/><rect x="288.45" y="112.50" width="2.3" height="16.70" fill="#f23645"/><rect x="291.89" y="122.40" width="1.3" height="32.20" fill="#f23645" fill-opacity="0.62"/><rect x="291.39" y="128.60" width="2.3" height="22.90" fill="#f23645"/><rect x="294.83" y="136.00" width="1.3" height="18.60" fill="#089981" fill-opacity="0.5"/><rect x="294.33" y="151.05" width="2.3" height="0.90" fill="#089981"/><rect x="297.76" y="142.20" width="1.3" height="23.30" fill="#f23645" fill-opacity="0.62"/><rect x="297.26" y="151.50" width="2.3" height="8.40" fill="#f23645"/><rect x="300.70" y="139.10" width="1.3" height="22.60" fill="#089981" fill-opacity="0.5"/><rect x="300.20" y="151.50" width="2.3" height="8.40" fill="#089981"/><rect x="303.63" y="133.00" width="1.3" height="18.60" fill="#089981" fill-opacity="0.5"/><rect x="303.13" y="142.00" width="2.3" height="9.30" fill="#089981"/><rect x="306.57" y="93.20" width="1.3" height="74.40" fill="#f23645" fill-opacity="0.62"/><rect x="306.07" y="142.80" width="2.3" height="22.70" fill="#f23645"/><rect x="309.50" y="121.80" width="1.3" height="43.70" fill="#089981" fill-opacity="0.5"/><rect x="309.00" y="151.50" width="2.3" height="14.00" fill="#089981"/><rect x="312.44" y="116.20" width="1.3" height="41.50" fill="#089981" fill-opacity="0.5"/><rect x="311.94" y="128.60" width="2.3" height="22.60" fill="#089981"/><rect x="315.37" y="107.50" width="1.3" height="34.10" fill="#f23645" fill-opacity="0.62"/><rect x="314.87" y="128.60" width="2.3" height="3.10" fill="#f23645"/><rect x="318.31" y="100.80" width="1.3" height="32.20" fill="#089981" fill-opacity="0.5"/><rect x="317.81" y="101.40" width="2.3" height="30.90" fill="#089981"/><rect x="321.25" y="82.20" width="1.3" height="24.80" fill="#089981" fill-opacity="0.5"/><rect x="320.75" y="92.10" width="2.3" height="9.90" fill="#089981"/><rect x="324.18" y="71.00" width="1.3" height="41.00" fill="#089981" fill-opacity="0.5"/><rect x="323.68" y="71.60" width="2.3" height="20.50" fill="#089981"/><rect x="327.12" y="71.00" width="1.3" height="24.80" fill="#f23645" fill-opacity="0.62"/><rect x="326.62" y="71.60" width="2.3" height="8.70" fill="#f23645"/><rect x="330.05" y="54.90" width="1.3" height="32.90" fill="#089981" fill-opacity="0.5"/><rect x="329.55" y="59.20" width="2.3" height="20.50" fill="#089981"/><rect x="332.99" y="53.00" width="1.3" height="11.80" fill="#f23645" fill-opacity="0.62"/><rect x="332.49" y="58.60" width="2.3" height="1.30" fill="#f23645"/><rect x="335.92" y="55.50" width="1.3" height="23.00" fill="#f23645" fill-opacity="0.62"/><rect x="335.42" y="59.20" width="2.3" height="7.50" fill="#f23645"/><rect x="338.86" y="50.50" width="1.3" height="16.80" fill="#089981" fill-opacity="0.5"/><rect x="338.36" y="53.60" width="2.3" height="13.10" fill="#089981"/><rect x="341.79" y="52.40" width="1.3" height="11.20" fill="#f23645" fill-opacity="0.62"/><rect x="341.29" y="54.90" width="2.3" height="3.70" fill="#f23645"/><rect x="344.73" y="52.40" width="1.3" height="14.30" fill="#f23645" fill-opacity="0.62"/><rect x="344.23" y="56.10" width="2.3" height="3.80" fill="#f23645"/><rect x="347.66" y="57.40" width="1.3" height="114.30" fill="#f23645" fill-opacity="0.62"/><rect x="347.16" y="58.60" width="2.3" height="105.00" fill="#f23645"/><rect x="350.60" y="163.60" width="1.3" height="44.70" fill="#f23645" fill-opacity="0.62"/><rect x="350.10" y="163.60" width="2.3" height="21.10" fill="#f23645"/><rect x="353.54" y="180.40" width="1.3" height="39.10" fill="#f23645" fill-opacity="0.62"/><rect x="353.04" y="184.70" width="2.3" height="8.70" fill="#f23645"/><rect x="356.47" y="158.10" width="1.3" height="44.60" fill="#089981" fill-opacity="0.5"/><rect x="355.97" y="174.20" width="2.3" height="19.20" fill="#089981"/><rect x="359.41" y="173.00" width="1.3" height="22.90" fill="#f23645" fill-opacity="0.62"/><rect x="358.91" y="173.60" width="2.3" height="16.70" fill="#f23645"/><rect x="362.34" y="168.00" width="1.3" height="26.00" fill="#089981" fill-opacity="0.5"/><rect x="361.84" y="176.10" width="2.3" height="14.20" fill="#089981"/><rect x="365.28" y="132.00" width="1.3" height="46.50" fill="#089981" fill-opacity="0.5"/><rect x="364.78" y="136.60" width="2.3" height="39.50" fill="#089981"/><rect x="368.21" y="126.30" width="1.3" height="46.70" fill="#f23645" fill-opacity="0.62"/><rect x="367.71" y="137.20" width="2.3" height="25.30" fill="#f23645"/><rect x="371.15" y="146.20" width="1.3" height="25.50" fill="#089981" fill-opacity="0.5"/><rect x="370.65" y="158.10" width="2.3" height="4.40" fill="#089981"/><rect x="374.08" y="122.30" width="1.3" height="36.50" fill="#089981" fill-opacity="0.5"/><rect x="373.58" y="129.20" width="2.3" height="29.60" fill="#089981"/><rect x="377.02" y="112.40" width="1.3" height="24.60" fill="#089981" fill-opacity="0.5"/><rect x="376.52" y="114.90" width="2.3" height="14.90" fill="#089981"/><rect x="379.96" y="105.20" width="1.3" height="34.50" fill="#f23645" fill-opacity="0.62"/><rect x="379.46" y="114.90" width="2.3" height="13.00" fill="#f23645"/><rect x="382.89" y="91.00" width="1.3" height="45.60" fill="#089981" fill-opacity="0.5"/><rect x="382.39" y="115.50" width="2.3" height="12.40" fill="#089981"/><rect x="385.83" y="81.30" width="1.3" height="36.10" fill="#089981" fill-opacity="0.5"/><rect x="385.33" y="111.80" width="2.3" height="4.90" fill="#089981"/><rect x="388.76" y="105.20" width="1.3" height="37.00" fill="#f23645" fill-opacity="0.62"/><rect x="388.26" y="111.80" width="2.3" height="18.60" fill="#f23645"/><rect x="391.70" y="129.80" width="1.3" height="28.20" fill="#f23645" fill-opacity="0.62"/><rect x="391.20" y="130.40" width="2.3" height="16.10" fill="#f23645"/><rect x="394.63" y="132.00" width="1.3" height="27.80" fill="#f23645" fill-opacity="0.62"/><rect x="394.13" y="146.90" width="2.3" height="11.10" fill="#f23645"/><rect x="397.57" y="143.20" width="1.3" height="25.30" fill="#089981" fill-opacity="0.5"/><rect x="397.07" y="148.80" width="2.3" height="8.70" fill="#089981"/><rect x="400.50" y="146.00" width="1.3" height="24.40" fill="#f23645" fill-opacity="0.62"/><rect x="400.00" y="149.30" width="2.3" height="15.50" fill="#f23645"/><rect x="403.44" y="156.70" width="1.3" height="23.60" fill="#f23645" fill-opacity="0.62"/><rect x="402.94" y="164.20" width="2.3" height="16.10" fill="#f23645"/><rect x="406.37" y="177.80" width="1.3" height="10.60" fill="#f23645" fill-opacity="0.62"/><rect x="405.87" y="180.30" width="2.3" height="1.90" fill="#f23645"/><rect x="409.31" y="179.50" width="1.3" height="50.50" fill="#f23645" fill-opacity="0.62"/><rect x="408.81" y="182.20" width="2.3" height="46.30" fill="#f23645"/><rect x="412.25" y="224.20" width="1.3" height="29.40" fill="#f23645" fill-opacity="0.62"/><rect x="411.75" y="228.50" width="2.3" height="17.20" fill="#f23645"/><rect x="415.18" y="223.60" width="1.3" height="21.70" fill="#089981" fill-opacity="0.5"/><rect x="414.68" y="232.50" width="2.3" height="12.20" fill="#089981"/><rect x="418.12" y="210.20" width="1.3" height="36.30" fill="#f23645" fill-opacity="0.62"/><rect x="417.62" y="232.50" width="2.3" height="6.20" fill="#f23645"/><rect x="421.05" y="226.00" width="1.3" height="28.60" fill="#f23645" fill-opacity="0.62"/><rect x="420.55" y="239.05" width="2.3" height="0.90" fill="#f23645"/><rect x="423.99" y="226.00" width="1.3" height="18.70" fill="#089981" fill-opacity="0.5"/><rect x="423.49" y="232.30" width="2.3" height="7.40" fill="#089981"/><rect x="426.92" y="226.70" width="1.3" height="12.80" fill="#089981" fill-opacity="0.5"/><rect x="426.42" y="229.20" width="2.3" height="3.70" fill="#089981"/><rect x="429.86" y="221.10" width="1.3" height="14.30" fill="#f23645" fill-opacity="0.62"/><rect x="429.36" y="228.75" width="2.3" height="0.90" fill="#f23645"/><rect x="432.79" y="225.10" width="1.3" height="22.00" fill="#f23645" fill-opacity="0.62"/><rect x="432.29" y="229.20" width="2.3" height="6.50" fill="#f23645"/><rect x="435.73" y="223.80" width="1.3" height="27.70" fill="#f23645" fill-opacity="0.62"/><rect x="435.23" y="235.40" width="2.3" height="14.20" fill="#f23645"/><rect x="438.67" y="239.10" width="1.3" height="14.50" fill="#089981" fill-opacity="0.5"/><rect x="438.17" y="243.40" width="2.3" height="6.20" fill="#089981"/><rect x="441.60" y="231.30" width="1.3" height="14.00" fill="#089981" fill-opacity="0.5"/><rect x="441.10" y="238.20" width="2.3" height="5.20" fill="#089981"/><rect x="444.54" y="234.10" width="1.3" height="8.70" fill="#089981" fill-opacity="0.5"/><rect x="444.04" y="236.00" width="2.3" height="1.80" fill="#089981"/><rect x="447.47" y="232.00" width="1.3" height="8.30" fill="#f23645" fill-opacity="0.62"/><rect x="446.97" y="235.40" width="2.3" height="4.10" fill="#f23645"/><rect x="450.41" y="234.10" width="1.3" height="8.70" fill="#f23645" fill-opacity="0.62"/><rect x="449.91" y="239.05" width="2.3" height="0.90" fill="#f23645"/><rect x="453.34" y="228.50" width="1.3" height="11.80" fill="#089981" fill-opacity="0.5"/><rect x="452.84" y="239.05" width="2.3" height="0.90" fill="#089981"/><rect x="456.28" y="236.60" width="1.3" height="10.50" fill="#f23645" fill-opacity="0.62"/><rect x="455.78" y="239.50" width="2.3" height="7.40" fill="#f23645"/><rect x="459.21" y="238.70" width="1.3" height="9.10" fill="#089981" fill-opacity="0.5"/><rect x="458.71" y="246.75" width="2.3" height="0.90" fill="#089981"/><rect x="462.15" y="240.90" width="1.3" height="10.80" fill="#f23645" fill-opacity="0.62"/><rect x="461.65" y="247.40" width="2.3" height="2.50" fill="#f23645"/><rect x="465.08" y="248.60" width="1.3" height="31.60" fill="#f23645" fill-opacity="0.62"/><rect x="464.58" y="249.90" width="2.3" height="22.90" fill="#f23645"/><rect x="468.02" y="269.50" width="1.3" height="18.20" fill="#f23645" fill-opacity="0.62"/><rect x="467.52" y="272.80" width="2.3" height="14.30" fill="#f23645"/><rect x="470.96" y="285.10" width="1.3" height="61.40" fill="#f23645" fill-opacity="0.62"/><rect x="470.46" y="285.10" width="2.3" height="57.70" fill="#f23645"/><rect x="473.89" y="308.70" width="1.3" height="34.70" fill="#089981" fill-opacity="0.5"/><rect x="473.39" y="321.70" width="2.3" height="21.10" fill="#089981"/><rect x="476.83" y="303.10" width="1.3" height="36.60" fill="#089981" fill-opacity="0.5"/><rect x="476.33" y="306.80" width="2.3" height="14.90" fill="#089981"/><rect x="479.76" y="275.30" width="1.3" height="31.50" fill="#089981" fill-opacity="0.5"/><rect x="479.26" y="285.10" width="2.3" height="21.70" fill="#089981"/><rect x="482.70" y="266.00" width="1.3" height="22.30" fill="#089981" fill-opacity="0.5"/><rect x="482.20" y="270.30" width="2.3" height="17.40" fill="#089981"/><rect x="485.63" y="249.20" width="1.3" height="21.70" fill="#089981" fill-opacity="0.5"/><rect x="485.13" y="256.10" width="2.3" height="14.20" fill="#089981"/><rect x="488.57" y="251.70" width="1.3" height="15.50" fill="#f23645" fill-opacity="0.62"/><rect x="488.07" y="256.10" width="2.3" height="3.10" fill="#f23645"/><rect x="491.50" y="256.70" width="1.3" height="14.90" fill="#f23645" fill-opacity="0.62"/><rect x="491.00" y="258.50" width="2.3" height="10.00" fill="#f23645"/><rect x="494.44" y="257.00" width="1.3" height="29.50" fill="#f23645" fill-opacity="0.62"/><rect x="493.94" y="269.10" width="2.3" height="6.20" fill="#f23645"/><rect x="497.38" y="261.60" width="1.3" height="34.20" fill="#f23645" fill-opacity="0.62"/><rect x="496.88" y="275.90" width="2.3" height="11.80" fill="#f23645"/><rect x="500.31" y="283.30" width="1.3" height="16.20" fill="#f23645" fill-opacity="0.62"/><rect x="499.81" y="287.70" width="2.3" height="6.80" fill="#f23645"/><rect x="503.25" y="277.10" width="1.3" height="18.70" fill="#089981" fill-opacity="0.5"/><rect x="502.75" y="288.90" width="2.3" height="6.20" fill="#089981"/><rect x="506.18" y="275.30" width="1.3" height="23.60" fill="#089981" fill-opacity="0.5"/><rect x="505.68" y="284.60" width="2.3" height="4.30" fill="#089981"/><rect x="509.12" y="270.30" width="1.3" height="18.00" fill="#089981" fill-opacity="0.5"/><rect x="508.62" y="273.40" width="2.3" height="11.80" fill="#089981"/><rect x="512.05" y="212.90" width="1.3" height="60.60" fill="#089981" fill-opacity="0.5"/><rect x="511.55" y="224.50" width="2.3" height="48.30" fill="#089981"/><rect x="514.99" y="221.10" width="1.3" height="21.60" fill="#f23645" fill-opacity="0.62"/><rect x="514.49" y="223.90" width="2.3" height="13.60" fill="#f23645"/><rect x="517.92" y="223.60" width="1.3" height="15.10" fill="#089981" fill-opacity="0.5"/><rect x="517.42" y="233.20" width="2.3" height="5.30" fill="#089981"/><rect x="520.86" y="216.40" width="1.3" height="18.60" fill="#089981" fill-opacity="0.5"/><rect x="520.36" y="224.50" width="2.3" height="8.30" fill="#089981"/><rect x="523.79" y="206.20" width="1.3" height="35.00" fill="#f23645" fill-opacity="0.62"/><rect x="523.29" y="225.10" width="2.3" height="3.10" fill="#f23645"/><rect x="526.73" y="223.90" width="1.3" height="16.70" fill="#f23645" fill-opacity="0.62"/><rect x="526.23" y="228.20" width="2.3" height="11.80" fill="#f23645"/><rect x="529.67" y="231.90" width="1.3" height="19.00" fill="#f23645" fill-opacity="0.62"/><rect x="529.17" y="240.00" width="2.3" height="6.20" fill="#f23645"/><rect x="532.60" y="242.50" width="1.3" height="8.60" fill="#f23645" fill-opacity="0.62"/><rect x="532.10" y="246.20" width="2.3" height="2.20" fill="#f23645"/><rect x="535.54" y="225.10" width="1.3" height="33.20" fill="#089981" fill-opacity="0.5"/><rect x="535.04" y="235.00" width="2.3" height="12.40" fill="#089981"/><rect x="538.47" y="231.30" width="1.3" height="19.80" fill="#f23645" fill-opacity="0.62"/><rect x="537.97" y="235.00" width="2.3" height="12.40" fill="#f23645"/><rect x="541.41" y="242.50" width="1.3" height="42.20" fill="#089981" fill-opacity="0.5"/><rect x="540.91" y="246.20" width="2.3" height="1.20" fill="#089981"/><rect x="544.34" y="219.90" width="1.3" height="29.40" fill="#089981" fill-opacity="0.5"/><rect x="543.84" y="229.40" width="2.3" height="16.80" fill="#089981"/><rect x="547.28" y="221.40" width="1.3" height="17.30" fill="#f23645" fill-opacity="0.62"/><rect x="546.78" y="228.80" width="2.3" height="8.70" fill="#f23645"/><rect x="550.21" y="223.20" width="1.3" height="18.60" fill="#089981" fill-opacity="0.5"/><rect x="549.71" y="236.85" width="2.3" height="0.90" fill="#089981"/><rect x="553.15" y="234.80" width="1.3" height="31.10" fill="#f23645" fill-opacity="0.62"/><rect x="552.65" y="236.90" width="2.3" height="29.00" fill="#f23645"/><rect x="556.09" y="240.00" width="1.3" height="38.80" fill="#089981" fill-opacity="0.5"/><rect x="555.59" y="240.60" width="2.3" height="25.30" fill="#089981"/><rect x="559.02" y="227.00" width="1.3" height="21.00" fill="#089981" fill-opacity="0.5"/><rect x="558.52" y="239.40" width="2.3" height="1.60" fill="#089981"/><rect x="561.96" y="220.10" width="1.3" height="19.30" fill="#089981" fill-opacity="0.5"/><rect x="561.46" y="225.10" width="2.3" height="13.60" fill="#089981"/><rect x="564.89" y="222.20" width="1.3" height="12.80" fill="#f23645" fill-opacity="0.62"/><rect x="564.39" y="225.10" width="2.3" height="9.30" fill="#f23645"/><rect x="567.83" y="227.00" width="1.3" height="11.50" fill="#f23645" fill-opacity="0.62"/><rect x="567.33" y="234.40" width="2.3" height="3.10" fill="#f23645"/><rect x="570.76" y="236.30" width="1.3" height="19.50" fill="#f23645" fill-opacity="0.62"/><rect x="570.26" y="237.00" width="2.3" height="14.20" fill="#f23645"/><rect x="573.70" y="242.30" width="1.3" height="13.90" fill="#f23645" fill-opacity="0.62"/><rect x="573.20" y="250.75" width="2.3" height="0.90" fill="#f23645"/><rect x="576.63" y="248.70" width="1.3" height="11.80" fill="#f23645" fill-opacity="0.62"/><rect x="576.13" y="251.20" width="2.3" height="8.70" fill="#f23645"/><rect x="579.57" y="245.30" width="1.3" height="15.80" fill="#089981" fill-opacity="0.5"/><rect x="579.07" y="248.10" width="2.3" height="12.40" fill="#089981"/><rect x="582.50" y="246.90" width="1.3" height="21.10" fill="#f23645" fill-opacity="0.62"/><rect x="582.00" y="246.90" width="2.3" height="16.70" fill="#f23645"/><rect x="585.44" y="261.80" width="1.3" height="64.20" fill="#f23645" fill-opacity="0.62"/><rect x="584.94" y="263.40" width="2.3" height="52.60" fill="#f23645"/><rect x="588.38" y="313.00" width="1.3" height="21.70" fill="#f23645" fill-opacity="0.62"/><rect x="587.88" y="316.00" width="2.3" height="6.90" fill="#f23645"/><rect x="591.31" y="317.00" width="1.3" height="13.30" fill="#089981" fill-opacity="0.5"/><rect x="590.81" y="321.60" width="2.3" height="0.90" fill="#089981"/><rect x="594.25" y="321.00" width="1.3" height="19.20" fill="#f23645" fill-opacity="0.62"/><rect x="593.75" y="321.00" width="2.3" height="16.80" fill="#f23645"/><rect x="597.18" y="330.00" width="1.3" height="10.20" fill="#089981" fill-opacity="0.5"/><rect x="596.68" y="331.00" width="2.3" height="7.40" fill="#089981"/><rect x="600.12" y="321.00" width="1.3" height="30.00" fill="#f23645" fill-opacity="0.62"/><rect x="599.62" y="331.00" width="2.3" height="11.70" fill="#f23645"/><rect x="603.05" y="319.20" width="1.3" height="23.90" fill="#089981" fill-opacity="0.5"/><rect x="602.55" y="319.80" width="2.3" height="23.30" fill="#089981"/><rect x="605.99" y="311.70" width="1.3" height="16.10" fill="#f23645" fill-opacity="0.62"/><rect x="605.49" y="320.40" width="2.3" height="5.00" fill="#f23645"/><rect x="608.92" y="317.00" width="1.3" height="15.80" fill="#089981" fill-opacity="0.5"/><rect x="608.42" y="319.50" width="2.3" height="5.90" fill="#089981"/><rect x="611.86" y="308.00" width="1.3" height="16.70" fill="#089981" fill-opacity="0.5"/><rect x="611.36" y="317.30" width="2.3" height="2.50" fill="#089981"/><rect x="614.80" y="306.70" width="1.3" height="17.80" fill="#089981" fill-opacity="0.5"/><rect x="614.30" y="308.60" width="2.3" height="8.10" fill="#089981"/><rect x="617.73" y="249.40" width="1.3" height="64.20" fill="#089981" fill-opacity="0.5"/><rect x="617.23" y="261.20" width="2.3" height="47.40" fill="#089981"/><rect x="620.67" y="257.40" width="1.3" height="21.80" fill="#f23645" fill-opacity="0.62"/><rect x="620.17" y="260.20" width="2.3" height="16.10" fill="#f23645"/><rect x="623.60" y="258.90" width="1.3" height="17.70" fill="#089981" fill-opacity="0.5"/><rect x="623.10" y="271.90" width="2.3" height="4.70" fill="#089981"/><rect x="626.54" y="252.70" width="1.3" height="21.70" fill="#089981" fill-opacity="0.5"/><rect x="626.04" y="255.80" width="2.3" height="16.70" fill="#089981"/><rect x="629.47" y="232.80" width="1.3" height="29.80" fill="#089981" fill-opacity="0.5"/><rect x="628.97" y="245.90" width="2.3" height="9.90" fill="#089981"/><rect x="632.41" y="237.20" width="1.3" height="45.60" fill="#f23645" fill-opacity="0.62"/><rect x="631.91" y="245.20" width="2.3" height="32.90" fill="#f23645"/><rect x="635.34" y="265.50" width="1.3" height="12.60" fill="#089981" fill-opacity="0.5"/><rect x="634.84" y="270.00" width="2.3" height="8.10" fill="#089981"/><rect x="638.28" y="258.90" width="1.3" height="19.20" fill="#f23645" fill-opacity="0.62"/><rect x="637.78" y="270.00" width="2.3" height="5.50" fill="#f23645"/><rect x="641.21" y="272.30" width="1.3" height="35.60" fill="#f23645" fill-opacity="0.62"/><rect x="640.71" y="274.60" width="2.3" height="33.30" fill="#f23645"/><rect x="644.15" y="267.00" width="1.3" height="45.00" fill="#089981" fill-opacity="0.5"/><rect x="643.65" y="273.80" width="2.3" height="33.80" fill="#089981"/><rect x="647.09" y="263.80" width="1.3" height="24.40" fill="#f23645" fill-opacity="0.62"/><rect x="646.59" y="273.80" width="2.3" height="4.90" fill="#f23645"/><rect x="650.02" y="235.90" width="1.3" height="42.80" fill="#089981" fill-opacity="0.5"/><rect x="649.52" y="243.40" width="2.3" height="35.30" fill="#089981"/><rect x="652.96" y="240.90" width="1.3" height="17.60" fill="#f23645" fill-opacity="0.62"/><rect x="652.46" y="243.40" width="2.3" height="5.60" fill="#f23645"/><rect x="655.89" y="233.40" width="1.3" height="22.40" fill="#089981" fill-opacity="0.5"/><rect x="655.39" y="240.30" width="2.3" height="8.00" fill="#089981"/><rect x="658.83" y="232.50" width="1.3" height="15.20" fill="#f23645" fill-opacity="0.62"/><rect x="658.33" y="240.30" width="2.3" height="5.60" fill="#f23645"/><rect x="661.76" y="244.60" width="1.3" height="13.00" fill="#f23645" fill-opacity="0.62"/><rect x="661.26" y="245.90" width="2.3" height="6.10" fill="#f23645"/><rect x="664.70" y="238.40" width="1.3" height="40.30" fill="#089981" fill-opacity="0.5"/><rect x="664.20" y="245.20" width="2.3" height="6.80" fill="#089981"/><rect x="667.63" y="218.10" width="1.3" height="38.90" fill="#089981" fill-opacity="0.5"/><rect x="667.13" y="219.70" width="2.3" height="26.40" fill="#089981"/><rect x="670.57" y="170.80" width="1.3" height="58.20" fill="#089981" fill-opacity="0.5"/><rect x="670.07" y="183.20" width="2.3" height="36.50" fill="#089981"/><rect x="673.51" y="168.30" width="1.3" height="40.40" fill="#f23645" fill-opacity="0.62"/><rect x="673.01" y="183.20" width="2.3" height="24.80" fill="#f23645"/><rect x="676.44" y="198.70" width="1.3" height="18.70" fill="#089981" fill-opacity="0.5"/><rect x="675.94" y="206.85" width="2.3" height="0.90" fill="#089981"/><rect x="679.38" y="197.00" width="1.3" height="23.50" fill="#089981" fill-opacity="0.5"/><rect x="678.88" y="206.30" width="2.3" height="1.00" fill="#089981"/><rect x="682.31" y="151.20" width="1.3" height="57.50" fill="#089981" fill-opacity="0.5"/><rect x="681.81" y="166.50" width="2.3" height="40.30" fill="#089981"/><rect x="685.25" y="156.90" width="1.3" height="32.50" fill="#f23645" fill-opacity="0.62"/><rect x="684.75" y="167.10" width="2.3" height="16.10" fill="#f23645"/><rect x="688.18" y="178.30" width="1.3" height="17.90" fill="#f23645" fill-opacity="0.62"/><rect x="687.68" y="183.20" width="2.3" height="6.80" fill="#f23645"/><rect x="691.12" y="178.00" width="1.3" height="16.40" fill="#089981" fill-opacity="0.5"/><rect x="690.62" y="187.60" width="2.3" height="2.40" fill="#089981"/><rect x="694.05" y="182.60" width="1.3" height="9.30" fill="#f23645" fill-opacity="0.62"/><rect x="693.55" y="186.30" width="2.3" height="3.70" fill="#f23645"/><rect x="696.99" y="188.80" width="1.3" height="43.50" fill="#f23645" fill-opacity="0.62"/><rect x="696.49" y="190.70" width="2.3" height="36.60" fill="#f23645"/><rect x="699.92" y="214.90" width="1.3" height="15.50" fill="#089981" fill-opacity="0.5"/><rect x="699.42" y="225.40" width="2.3" height="2.50" fill="#089981"/><rect x="702.86" y="215.50" width="1.3" height="19.20" fill="#f23645" fill-opacity="0.62"/><rect x="702.36" y="224.20" width="2.3" height="8.10" fill="#f23645"/><rect x="705.80" y="227.00" width="1.3" height="9.60" fill="#f23645" fill-opacity="0.62"/><rect x="705.30" y="232.00" width="2.3" height="4.60" fill="#f23645"/><rect x="708.73" y="223.00" width="1.3" height="13.00" fill="#089981" fill-opacity="0.5"/><rect x="708.23" y="228.50" width="2.3" height="6.90" fill="#089981"/><rect x="711.67" y="226.00" width="1.3" height="28.60" fill="#f23645" fill-opacity="0.62"/><rect x="711.17" y="228.50" width="2.3" height="15.10" fill="#f23645"/><rect x="714.60" y="239.10" width="1.3" height="21.70" fill="#f23645" fill-opacity="0.62"/><rect x="714.10" y="244.20" width="2.3" height="2.80" fill="#f23645"/><rect x="717.54" y="232.50" width="1.3" height="17.90" fill="#089981" fill-opacity="0.5"/><rect x="717.04" y="237.90" width="2.3" height="9.10" fill="#089981"/><rect x="720.47" y="237.20" width="1.3" height="24.20" fill="#f23645" fill-opacity="0.62"/><rect x="719.97" y="237.90" width="2.3" height="13.10" fill="#f23645"/><rect x="723.41" y="249.20" width="1.3" height="31.60" fill="#f23645" fill-opacity="0.62"/><rect x="722.91" y="250.50" width="2.3" height="25.20" fill="#f23645"/><rect x="726.34" y="253.25" width="1.3" height="21.50" fill="#089981" fill-opacity="0.5"/><rect x="725.84" y="259.00" width="2.3" height="15.75" fill="#089981"/><rect x="729.28" y="239.30" width="1.3" height="30.70" fill="#089981" fill-opacity="0.5"/><rect x="728.78" y="246.90" width="2.3" height="12.30" fill="#089981"/><rect x="732.22" y="238.00" width="1.3" height="13.40" fill="#f23645" fill-opacity="0.62"/><rect x="731.72" y="246.00" width="2.3" height="5.00" fill="#f23645"/><rect x="735.15" y="234.20" width="1.3" height="21.20" fill="#089981" fill-opacity="0.5"/><rect x="734.65" y="239.10" width="2.3" height="11.40" fill="#089981"/><rect x="738.09" y="227.80" width="1.3" height="23.50" fill="#089981" fill-opacity="0.5"/><rect x="737.59" y="232.10" width="2.3" height="7.50" fill="#089981"/><rect x="741.02" y="222.20" width="1.3" height="13.60" fill="#f23645" fill-opacity="0.62"/><rect x="740.52" y="232.10" width="2.3" height="3.50" fill="#f23645"/><rect x="743.96" y="227.80" width="1.3" height="18.60" fill="#f23645" fill-opacity="0.62"/><rect x="743.46" y="235.40" width="2.3" height="7.30" fill="#f23645"/><rect x="746.89" y="229.00" width="1.3" height="17.40" fill="#089981" fill-opacity="0.5"/><rect x="746.39" y="230.60" width="2.3" height="12.10" fill="#089981"/><rect x="749.83" y="219.10" width="1.3" height="19.20" fill="#089981" fill-opacity="0.5"/><rect x="749.33" y="228.10" width="2.3" height="2.50" fill="#089981"/><rect x="752.76" y="217.80" width="1.3" height="18.70" fill="#089981" fill-opacity="0.5"/><rect x="752.26" y="226.50" width="2.3" height="1.60" fill="#089981"/><rect x="755.70" y="215.00" width="1.3" height="34.50" fill="#f23645" fill-opacity="0.62"/><rect x="755.20" y="225.90" width="2.3" height="21.50" fill="#f23645"/><rect x="758.63" y="206.70" width="1.3" height="41.50" fill="#089981" fill-opacity="0.5"/><rect x="758.13" y="212.00" width="2.3" height="35.60" fill="#089981"/><rect x="761.57" y="185.60" width="1.3" height="31.00" fill="#089981" fill-opacity="0.5"/><rect x="761.07" y="191.50" width="2.3" height="20.50" fill="#089981"/><rect x="764.51" y="110.00" width="1.3" height="81.80" fill="#089981" fill-opacity="0.5"/><rect x="764.01" y="115.90" width="2.3" height="75.60" fill="#089981"/><rect x="767.44" y="97.30" width="1.3" height="25.40" fill="#f23645" fill-opacity="0.62"/><rect x="766.94" y="115.50" width="2.3" height="6.60" fill="#f23645"/>
<line x1="7" y1="121.7" x2="973.5" y2="121.7" stroke="#f23645" stroke-width="1.3" stroke-dasharray="1 1" opacity="0.42"/>
<line x1="723.8" y1="263.7" x2="768.5" y2="121.5" stroke="#6a6d78" stroke-width="0.9" stroke-dasharray="3.8 3.5"/>
<line x1="768.7" y1="122.2" x2="771" y2="125.6" stroke="#6a6d78" stroke-width="0.9"/>
<rect x="7" y="407.9" width="966.5" height="87.4" fill="rgba(126,87,194,0.1)"/>
<line x1="7" y1="407.9" x2="973.5" y2="407.9" stroke="#787b86" stroke-width="1" stroke-dasharray="3.5 3.9" stroke-dashoffset="3.7" opacity="0.65"/>
<line x1="7" y1="451.4" x2="973.5" y2="451.4" stroke="#787b86" stroke-width="1" stroke-dasharray="3.5 3.9" stroke-dashoffset="3.7" opacity="0.65"/>
<line x1="7" y1="495.3" x2="973.5" y2="495.3" stroke="#787b86" stroke-width="1" stroke-dasharray="3.5 3.9" stroke-dashoffset="3.7" opacity="0.65"/>
<polyline points="7.80,461.30 10.73,459.70 13.67,448.80 16.60,461.75 19.54,458.20 22.47,455.50 25.41,451.40 28.34,454.25 31.28,435.50 34.22,428.90 37.15,437.80 40.09,443.00 43.02,437.80 45.96,431.10 48.89,437.00 51.83,437.40 54.76,441.00 57.70,412.40 60.64,419.10 63.57,412.10 66.51,432.10 69.44,433.90 72.38,440.20 75.31,440.20 78.25,445.70 81.18,442.00 84.12,438.90 87.06,433.60 89.99,424.25 92.93,433.20 95.86,434.25 98.80,424.90 101.73,444.90 104.67,448.00 107.60,428.50 110.54,424.60 113.47,423.30 116.41,419.90 119.35,415.20 122.28,408.20 125.22,412.40 128.15,425.80 131.09,431.60 134.02,428.50 136.96,436.30 139.89,433.50 142.83,445.00 145.77,445.80 148.70,448.90 151.64,468.40 154.57,497.30 157.51,484.00 160.44,471.90 163.38,471.60 166.31,473.40 169.25,475.00 172.18,478.60 175.12,469.70 178.06,471.25 180.99,445.00 183.93,439.10 186.86,438.00 189.80,434.80 192.73,434.40 195.67,421.90 198.60,432.80 201.54,442.70 204.48,443.75 207.41,448.90 210.35,444.70 213.28,459.80 216.22,453.60 219.15,453.10 222.09,451.60 225.02,440.60 227.96,451.25 230.89,445.30 233.83,441.90 236.77,449.40 239.70,424.40 242.64,420.00 245.57,424.40 248.51,422.30 251.44,435.60 254.38,429.70 257.31,440.30 260.25,438.75 263.19,439.10 266.12,430.90 269.06,425.50 271.99,429.10 274.93,433.30 277.86,438.75 280.80,446.90 283.73,449.40 286.67,460.60 289.60,471.80 292.54,485.00 295.48,486.30 298.41,489.80 301.35,480.50 304.28,472.20 307.22,485.60 310.15,471.90 313.09,454.40 316.02,456.60 318.96,437.20 321.89,430.50 324.83,421.60 327.77,427.30 330.70,417.50 333.64,417.50 336.57,423.75 339.51,418.00 342.44,421.60 345.38,422.70 348.31,482.50 351.25,489.30 354.19,491.60 357.12,480.40 360.06,485.40 362.99,477.40 365.93,456.50 368.86,466.50 371.80,464.20 374.73,452.40 377.67,444.90 380.61,451.00 383.54,445.70 386.48,443.60 389.41,453.00 392.35,459.30 395.28,464.90 398.22,460.60 401.15,467.20 404.09,473.90 407.02,475.10 409.96,490.00 412.90,495.90 415.83,488.40 418.77,490.00 421.70,490.30 424.64,485.00 427.57,482.50 430.51,483.00 433.44,486.10 436.38,491.25 439.31,485.30 442.25,480.90 445.19,479.80 448.12,481.40 451.06,481.40 453.99,481.90 456.93,485.60 459.86,486.10 462.80,488.40 465.73,501.00 468.67,507.20 471.61,524.40 474.54,505.60 477.48,494.70 480.41,476.70 483.35,465.80 486.28,456.40 489.22,458.50 492.15,463.80 495.09,467.50 498.03,473.50 500.96,477.00 503.90,473.10 506.83,468.75 509.77,459.00 512.70,429.70 515.64,438.40 518.57,434.80 521.51,431.70 524.44,434.80 527.38,443.10 530.32,447.80 533.25,449.40 536.19,440.30 539.12,448.90 542.06,448.90 544.99,437.20 547.93,443.40 550.86,443.75 553.80,464.50 556.74,446.90 559.67,446.25 562.61,436.90 565.54,444.20 568.48,446.90 571.41,455.90 574.35,457.50 577.28,462.50 580.22,453.10 583.15,464.50 586.09,490.30 589.03,493.10 591.96,491.60 594.90,497.30 597.83,492.70 600.77,496.60 603.70,478.60 606.64,480.20 609.57,475.90 612.51,473.10 615.45,466.60 618.38,434.80 621.32,445.30 624.25,443.10 627.19,434.80 630.12,429.10 633.06,449.70 635.99,445.80 638.93,448.40 641.86,466.50 644.80,448.20 647.74,450.00 650.67,434.30 653.61,436.30 656.54,433.20 659.48,436.60 662.41,440.50 665.35,436.30 668.28,425.70 671.22,410.40 674.16,427.25 677.09,426.80 680.03,426.50 682.96,411.30 685.90,422.25 688.83,426.80 691.77,426.00 694.70,428.50 697.64,450.70 700.57,449.90 703.51,453.50 706.45,456.20 709.38,451.90 712.32,460.10 715.25,462.40 718.19,456.20 721.12,464.75 724.06,476.50 726.99,466.30 729.93,456.90 732.87,459.30 735.80,452.60 738.74,446.80 741.67,449.90 744.61,454.10 747.54,445.70 750.48,443.20 753.41,442.90 756.35,458.50 759.28,435.80 762.22,424.90 765.16,398.30 768.09,402.60" fill="none" stroke="#8460c8" stroke-width="1"/>
<line x1="6" y1="383.2" x2="1017.5" y2="383.2" stroke="#e0e3eb" stroke-width="1"/>
<line x1="974.0" y1="6" x2="974.0" y2="556" stroke="#f0f3fa" stroke-width="0"/>
<rect x="6.5" y="6.5" width="1011" height="549.5" fill="none" stroke="#e6e8ee" stroke-width="1.5"/>
<text x="268.4" y="66.0" font-size="7" fill="#131722" stroke="#131722" stroke-width="0.45" font-weight="normal" text-anchor="start" textLength="23.4" lengthAdjust="spacingAndGlyphs">Mansha</text>
<text x="597.9" y="251.9" font-size="7" fill="#131722" stroke="#131722" stroke-width="0.45" font-weight="normal" text-anchor="start" textLength="11.8" lengthAdjust="spacingAndGlyphs">SOE</text>
<text x="11.95" y="19.8" font-size="9.2" fill="#131722" stroke="#131722" stroke-width="0.22" font-weight="normal" text-anchor="start" textLength="15.1" lengthAdjust="spacingAndGlyphs">BCH</text>
<text x="35.95" y="19.8" font-size="9.2" fill="#131722" stroke="#131722" stroke-width="0.22" font-weight="normal" text-anchor="start" textLength="20.6" lengthAdjust="spacingAndGlyphs">USDT,</text>
<text x="58.45" y="19.8" font-size="9.2" fill="#131722" stroke="#131722" stroke-width="0.22" font-weight="normal" text-anchor="start" textLength="12.2" lengthAdjust="spacingAndGlyphs">4h,</text>
<text x="73.15" y="19.8" font-size="9.2" fill="#131722" stroke="#131722" stroke-width="0.22" font-weight="normal" text-anchor="start" textLength="33.7" lengthAdjust="spacingAndGlyphs">BCHUSDT</text>
<text x="111.35" y="19.8" font-size="9.2" fill="#131722" stroke="#131722" stroke-width="0.22" font-weight="normal" text-anchor="start" textLength="6.0" lengthAdjust="spacingAndGlyphs">O</text>
<text x="116.75" y="19.8" font-size="9.2" fill="#f23645" stroke="#f23645" stroke-width="0.22" font-weight="normal" text-anchor="start" textLength="20.4" lengthAdjust="spacingAndGlyphs">469.9</text>
<text x="141.35" y="19.8" font-size="9.2" fill="#131722" stroke="#131722" stroke-width="0.22" font-weight="normal" text-anchor="start" textLength="6.1" lengthAdjust="spacingAndGlyphs">H</text>
<text x="146.85" y="19.8" font-size="9.2" fill="#f23645" stroke="#f23645" stroke-width="0.22" font-weight="normal" text-anchor="start" textLength="20.4" lengthAdjust="spacingAndGlyphs">474.0</text>
<text x="171.45" y="19.8" font-size="9.2" fill="#131722" stroke="#131722" stroke-width="0.22" font-weight="normal" text-anchor="start" textLength="4.9" lengthAdjust="spacingAndGlyphs">L</text>
<text x="175.95" y="19.8" font-size="9.2" fill="#f23645" stroke="#f23645" stroke-width="0.22" font-weight="normal" text-anchor="start" textLength="20.8" lengthAdjust="spacingAndGlyphs">468.2</text>
<text x="200.65" y="19.8" font-size="9.2" fill="#131722" stroke="#131722" stroke-width="0.22" font-weight="normal" text-anchor="start" textLength="5.8" lengthAdjust="spacingAndGlyphs">C</text>
<text x="205.85" y="19.8" font-size="9.2" fill="#f23645" stroke="#f23645" stroke-width="0.22" font-weight="normal" text-anchor="start" textLength="20.7" lengthAdjust="spacingAndGlyphs">468.5</text>
<text x="230.75" y="19.8" font-size="9.2" fill="#f23645" stroke="#f23645" stroke-width="0.22" font-weight="normal" text-anchor="start" textLength="16.5" lengthAdjust="spacingAndGlyphs">−1.4</text>
<text x="249.55" y="19.8" font-size="9.2" fill="#f23645" stroke="#f23645" stroke-width="0.22" font-weight="normal" text-anchor="start" textLength="29.4" lengthAdjust="spacingAndGlyphs">(−0.30%)</text>
<text x="29.9" y="19.8" font-size="9.2" fill="#131722" stroke="#131722" stroke-width="0.22" font-weight="normal" text-anchor="start">/</text>
<text x="12.0" y="30.9" font-size="9.2" fill="#131722" stroke="#131722" stroke-width="0.22" font-weight="normal" text-anchor="start" textLength="26.95" lengthAdjust="spacingAndGlyphs">Volume</text>
<text x="43.15" y="30.9" font-size="9.2" fill="#f4707b" stroke="#f4707b" stroke-width="0.22" font-weight="normal" text-anchor="start" textLength="26.9" lengthAdjust="spacingAndGlyphs">4.444 K</text>
<text x="12.05" y="395.4" font-size="9.2" fill="#131722" stroke="#131722" stroke-width="0.22" font-weight="normal" text-anchor="start" textLength="27.9" lengthAdjust="spacingAndGlyphs">RSI (14)</text>
<text x="44.75" y="395.4" font-size="9.2" fill="#7e57c2" stroke="#7e57c2" stroke-width="0.22" font-weight="normal" text-anchor="start" textLength="20.5" lengthAdjust="spacingAndGlyphs">72.27</text>
<clipPath id="pc"><rect x="974" y="7.2" width="44" height="548"/></clipPath><g clip-path="url(#pc)">
<text x="978.9" y="10.899999999999999" font-size="8.6" fill="#131722" stroke="#131722" stroke-width="0.22" font-weight="normal" text-anchor="start" textLength="20.6" lengthAdjust="spacingAndGlyphs">495.0</text>
<text x="978.9" y="31.900000000000002" font-size="8.6" fill="#131722" stroke="#131722" stroke-width="0.22" font-weight="normal" text-anchor="start" textLength="20.6" lengthAdjust="spacingAndGlyphs">490.0</text>
<text x="978.9" y="53.199999999999996" font-size="8.6" fill="#131722" stroke="#131722" stroke-width="0.22" font-weight="normal" text-anchor="start" textLength="20.6" lengthAdjust="spacingAndGlyphs">485.0</text>
<text x="978.9" y="158.5" font-size="8.6" fill="#131722" stroke="#131722" stroke-width="0.22" font-weight="normal" text-anchor="start" textLength="20.6" lengthAdjust="spacingAndGlyphs">461.0</text>
<text x="978.9" y="194.20000000000002" font-size="8.6" fill="#131722" stroke="#131722" stroke-width="0.22" font-weight="normal" text-anchor="start" textLength="20.6" lengthAdjust="spacingAndGlyphs">453.0</text>
<text x="978.9" y="217.60000000000002" font-size="8.6" fill="#131722" stroke="#131722" stroke-width="0.22" font-weight="normal" text-anchor="start" textLength="20.6" lengthAdjust="spacingAndGlyphs">448.0</text>
<text x="978.9" y="246.3" font-size="8.6" fill="#131722" stroke="#131722" stroke-width="0.22" font-weight="normal" text-anchor="start" textLength="20.6" lengthAdjust="spacingAndGlyphs">442.0</text>
<text x="978.9" y="274.7" font-size="8.6" fill="#131722" stroke="#131722" stroke-width="0.22" font-weight="normal" text-anchor="start" textLength="20.6" lengthAdjust="spacingAndGlyphs">436.0</text>
<text x="978.9" y="303.2" font-size="8.6" fill="#131722" stroke="#131722" stroke-width="0.22" font-weight="normal" text-anchor="start" textLength="20.6" lengthAdjust="spacingAndGlyphs">430.0</text>
<text x="978.9" y="327.6" font-size="8.6" fill="#131722" stroke="#131722" stroke-width="0.22" font-weight="normal" text-anchor="start" textLength="20.6" lengthAdjust="spacingAndGlyphs">425.0</text>
<text x="978.9" y="352.5" font-size="8.6" fill="#131722" stroke="#131722" stroke-width="0.22" font-weight="normal" text-anchor="start" textLength="20.6" lengthAdjust="spacingAndGlyphs">420.0</text>
<text x="978.9" y="373.7" font-size="8.6" fill="#131722" stroke="#131722" stroke-width="0.22" font-weight="normal" text-anchor="start" textLength="20.6" lengthAdjust="spacingAndGlyphs">415.5</text>
<text x="978.9" y="388.90000000000003" font-size="8.6" fill="#131722" stroke="#131722" stroke-width="0.22" font-weight="normal" text-anchor="start" textLength="20.6" lengthAdjust="spacingAndGlyphs">80.00</text>
<text x="978.9" y="411.2" font-size="8.6" fill="#131722" stroke="#131722" stroke-width="0.22" font-weight="normal" text-anchor="start" textLength="20.6" lengthAdjust="spacingAndGlyphs">70.00</text>
<text x="978.9" y="433.5" font-size="8.6" fill="#131722" stroke="#131722" stroke-width="0.22" font-weight="normal" text-anchor="start" textLength="20.6" lengthAdjust="spacingAndGlyphs">60.00</text>
<text x="978.9" y="454.7" font-size="8.6" fill="#131722" stroke="#131722" stroke-width="0.22" font-weight="normal" text-anchor="start" textLength="20.6" lengthAdjust="spacingAndGlyphs">50.00</text>
<text x="978.9" y="477.6" font-size="8.6" fill="#131722" stroke="#131722" stroke-width="0.22" font-weight="normal" text-anchor="start" textLength="20.6" lengthAdjust="spacingAndGlyphs">40.00</text>
<text x="978.9" y="498.6" font-size="8.6" fill="#131722" stroke="#131722" stroke-width="0.22" font-weight="normal" text-anchor="start" textLength="20.6" lengthAdjust="spacingAndGlyphs">30.00</text>
<text x="978.9" y="521.3" font-size="8.6" fill="#131722" stroke="#131722" stroke-width="0.22" font-weight="normal" text-anchor="start" textLength="20.6" lengthAdjust="spacingAndGlyphs">20.00</text>
</g>
<rect x="974" y="78.3" width="28.9" height="11.50" fill="#089981" rx="1.2"/><text x="978.9" y="87.1" font-size="8.8" fill="#fff" stroke="#fff" stroke-width="0.22" font-weight="normal" text-anchor="start" textLength="20.8" lengthAdjust="spacingAndGlyphs">477.2</text>
<rect x="974" y="116.3" width="40.5" height="20.40" fill="#f23645" rx="1.2"/><text x="978.9" y="124.9" font-size="8.8" fill="#fff" stroke="#fff" stroke-width="0.22" font-weight="normal" text-anchor="start" textLength="20.8" lengthAdjust="spacingAndGlyphs">468.5</text><text x="978.9" y="134.5" font-size="8.8" fill="#fff" stroke="#fff" stroke-width="0.22" font-weight="normal" text-anchor="start" textLength="31.5" lengthAdjust="spacingAndGlyphs">01:46:01</text>
<rect x="974" y="258.3" width="28.9" height="11.30" fill="#787b86" rx="1.2"/><text x="978.9" y="266.9" font-size="8.8" fill="#fff" stroke="#fff" stroke-width="0.22" font-weight="normal" text-anchor="start" textLength="20.8" lengthAdjust="spacingAndGlyphs">437.6</text>
<rect x="974" y="346.3" width="28.9" height="11.30" fill="#f23645" rx="1.2"/><text x="978.9" y="354.9" font-size="8.8" fill="#fff" stroke="#fff" stroke-width="0.22" font-weight="normal" text-anchor="start" textLength="20.8" lengthAdjust="spacingAndGlyphs">419.5</text>
<rect x="974" y="369.8" width="34.8" height="11.40" fill="#f7525f" rx="1.2"/><text x="978.9" y="378.4" font-size="8.8" fill="#fff" stroke="#fff" stroke-width="0.22" font-weight="normal" text-anchor="start" textLength="27" lengthAdjust="spacingAndGlyphs">4.444 K</text>
<rect x="974" y="396.9" width="28.9" height="11.30" fill="#7e57c2" rx="1.2"/><text x="978.9" y="405.5" font-size="8.8" fill="#fff" stroke="#fff" stroke-width="0.22" font-weight="normal" text-anchor="start" textLength="20.8" lengthAdjust="spacingAndGlyphs">72.27</text>
<text x="57.5" y="549.8" font-size="8.2" fill="#131722" stroke="#131722" stroke-width="0.22" font-weight="normal" text-anchor="middle">13</text>
<text x="128" y="549.8" font-size="8.2" fill="#131722" stroke="#131722" stroke-width="0.22" font-weight="normal" text-anchor="middle">17</text>
<text x="198.4" y="549.8" font-size="8.2" fill="#131722" stroke="#131722" stroke-width="0.22" font-weight="normal" text-anchor="middle">21</text>
<text x="268.5" y="549.8" font-size="8.2" fill="#131722" stroke="#131722" stroke-width="0.22" font-weight="normal" text-anchor="middle">25</text>
<text x="330.5" y="549.8" font-size="8.2" fill="#131722" stroke="#131722" stroke-width="0.22" font-weight="normal" text-anchor="middle">15:30</text>
<text x="392" y="549.8" font-size="8.2" fill="#131722" font-weight="bold" text-anchor="middle">Apr</text>
<text x="462" y="549.8" font-size="8.2" fill="#131722" stroke="#131722" stroke-width="0.22" font-weight="normal" text-anchor="middle">5</text>
<text x="533" y="549.8" font-size="8.2" fill="#131722" stroke="#131722" stroke-width="0.22" font-weight="normal" text-anchor="middle">9</text>
<text x="603.5" y="549.8" font-size="8.2" fill="#131722" stroke="#131722" stroke-width="0.22" font-weight="normal" text-anchor="middle">13</text>
<text x="673.5" y="549.8" font-size="8.2" fill="#131722" stroke="#131722" stroke-width="0.22" font-weight="normal" text-anchor="middle">17</text>
<text x="744.5" y="549.8" font-size="8.2" fill="#131722" stroke="#131722" stroke-width="0.22" font-weight="normal" text-anchor="middle">21</text>
<text x="814.5" y="549.8" font-size="8.2" fill="#131722" stroke="#131722" stroke-width="0.22" font-weight="normal" text-anchor="middle">25</text>
<text x="920.5" y="549.8" font-size="8.2" fill="#131722" font-weight="bold" text-anchor="middle">May</text>
<g transform="translate(7,564.2)" fill="#131722"><path d="M0 0H5.6V6.8H3V2.4H0Z"/><circle cx="7.3" cy="1.2" r="1.2"/><path d="M9.3 0H12.6L9.6 6.8H6.3Z"/></g>
<text x="22.6" y="571.1" font-size="9" fill="#131722" stroke="#131722" stroke-width="0.1" font-weight="normal" text-anchor="start" textLength="47" lengthAdjust="spacingAndGlyphs">TradingView</text></svg></body></html>
